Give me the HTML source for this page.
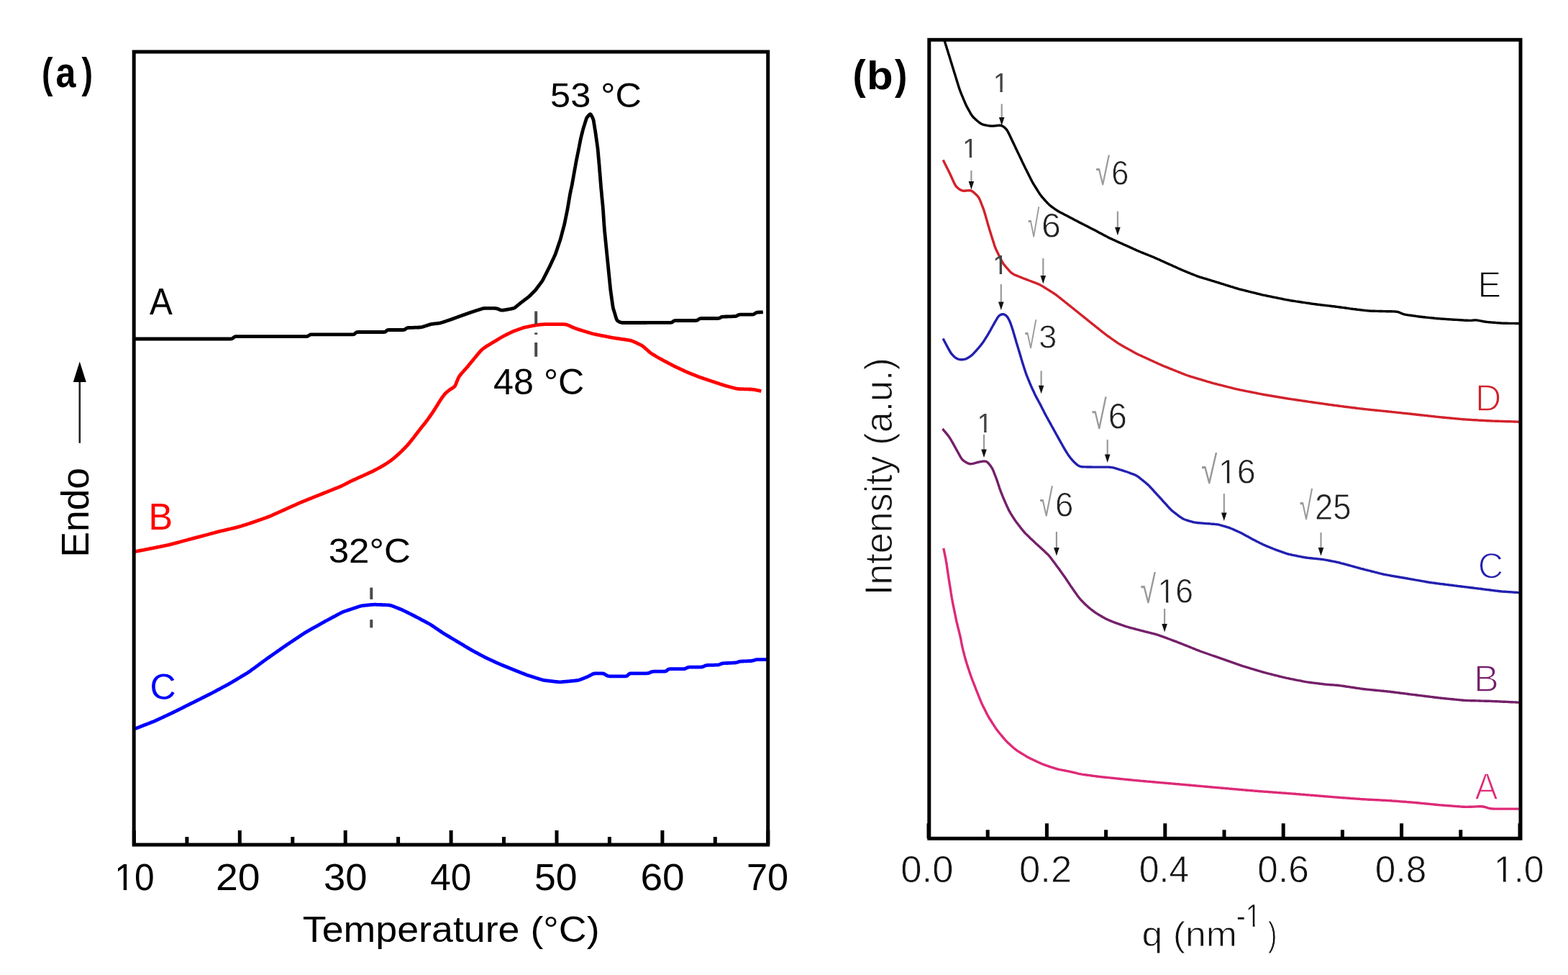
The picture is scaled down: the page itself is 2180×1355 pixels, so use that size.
<!DOCTYPE html><html><head><meta charset="utf-8"><style>html,body{margin:0;padding:0;background:#fff;width:2180px;height:1355px;overflow:hidden}svg{display:block}text{font-family:"Liberation Sans",Arial,sans-serif}</style></head><body>
<svg width="2180" height="1355" viewBox="0 0 2180 1355">
<rect width="2180" height="1355" fill="#fff"/>
<g fill="none" stroke-linejoin="round" stroke-linecap="butt">
<path d="M186.0,471.0 L187.0,471.0 L188.0,471.0 L189.0,471.0 L190.0,471.0 L191.0,471.0 L192.0,471.0 L193.0,471.0 L194.0,471.0 L195.0,471.0 L196.0,471.0 L197.0,471.0 L198.0,471.0 L199.0,471.0 L200.0,471.0 L201.0,471.0 L202.0,471.0 L203.0,471.0 L204.0,471.0 L205.0,471.0 L206.0,471.0 L207.0,471.0 L208.0,471.0 L209.0,471.0 L210.0,471.0 L211.0,471.0 L212.0,471.0 L213.0,471.0 L214.0,471.0 L215.0,471.0 L216.0,471.0 L217.0,471.0 L218.0,471.0 L219.0,471.0 L220.0,471.0 L221.0,471.0 L222.0,471.0 L223.0,471.0 L224.0,471.0 L225.0,471.0 L226.0,471.0 L227.0,471.0 L228.0,471.0 L229.0,471.0 L230.0,471.0 L231.0,471.0 L232.0,471.0 L233.1,471.0 L234.1,471.0 L235.1,471.0 L236.1,471.0 L237.1,471.0 L238.1,471.0 L239.1,471.0 L240.1,471.0 L241.1,471.0 L242.1,471.0 L243.1,471.0 L244.1,471.0 L245.1,471.0 L246.1,471.0 L247.1,471.0 L248.1,471.0 L249.1,471.0 L250.1,471.0 L251.1,471.0 L252.1,471.0 L253.1,471.0 L254.1,471.0 L255.1,471.0 L256.1,471.0 L257.1,471.0 L258.1,471.0 L259.1,471.0 L260.1,471.0 L261.1,471.0 L262.1,471.0 L263.1,471.0 L264.1,471.0 L265.1,471.0 L266.1,471.0 L267.1,471.0 L268.1,471.0 L269.1,471.0 L270.1,471.0 L271.1,471.0 L272.1,471.0 L273.1,471.0 L274.1,471.0 L275.1,471.0 L276.1,471.0 L277.1,471.0 L278.1,471.0 L279.1,471.0 L280.1,471.0 L281.1,471.0 L282.1,471.0 L283.1,471.0 L284.1,471.0 L285.1,471.0 L286.1,471.0 L287.1,471.0 L288.1,471.0 L289.1,471.0 L290.1,471.0 L291.1,471.0 L292.1,471.0 L293.1,471.0 L294.1,471.0 L295.1,471.0 L296.1,471.0 L297.1,471.0 L298.1,471.0 L299.1,471.0 L300.1,471.0 L301.1,471.0 L302.1,471.0 L303.1,471.0 L304.1,471.0 L305.1,471.0 L306.1,471.0 L307.1,471.0 L308.1,471.0 L309.1,471.0 L310.1,471.0 L311.1,471.0 L312.1,471.0 L313.1,471.0 L314.1,471.0 L315.1,471.0 L316.1,471.0 L317.1,471.0 L318.1,471.0 L319.1,471.0 L320.1,471.0 L321.1,470.9 L322.1,470.8 L322.9,470.5 L323.7,470.0 L324.4,469.4 L325.1,468.7 L325.9,468.2 L326.7,467.9 L327.7,467.7 L328.6,467.6 L329.6,467.6 L330.6,467.6 L331.6,467.6 L332.6,467.6 L333.6,467.6 L334.6,467.6 L335.6,467.6 L336.6,467.6 L337.6,467.6 L338.6,467.6 L339.6,467.6 L340.6,467.6 L341.6,467.6 L342.6,467.6 L343.6,467.6 L344.6,467.6 L345.6,467.6 L346.6,467.6 L347.6,467.6 L348.6,467.6 L349.6,467.6 L350.6,467.6 L351.6,467.6 L352.6,467.6 L353.6,467.6 L354.6,467.6 L355.6,467.6 L356.7,467.6 L357.7,467.6 L358.7,467.6 L359.7,467.6 L360.7,467.6 L361.7,467.6 L362.7,467.6 L363.7,467.6 L364.7,467.6 L365.7,467.6 L366.7,467.6 L367.7,467.6 L368.7,467.6 L369.7,467.6 L370.7,467.6 L371.7,467.6 L372.7,467.6 L373.7,467.6 L374.7,467.6 L375.7,467.6 L376.7,467.6 L377.7,467.6 L378.7,467.6 L379.7,467.6 L380.7,467.6 L381.7,467.6 L382.7,467.6 L383.7,467.6 L384.7,467.6 L385.7,467.6 L386.7,467.6 L387.7,467.6 L388.7,467.6 L389.7,467.6 L390.7,467.6 L391.7,467.6 L392.7,467.6 L393.7,467.6 L394.7,467.6 L395.7,467.6 L396.7,467.6 L397.7,467.6 L398.7,467.6 L399.7,467.6 L400.7,467.6 L401.7,467.6 L402.7,467.6 L403.7,467.6 L404.7,467.6 L405.7,467.6 L406.7,467.6 L407.7,467.6 L408.7,467.6 L409.7,467.6 L410.7,467.6 L411.7,467.6 L412.7,467.6 L413.7,467.6 L414.7,467.6 L415.7,467.6 L416.7,467.6 L417.7,467.6 L418.7,467.6 L419.7,467.6 L420.7,467.6 L421.7,467.6 L422.7,467.6 L423.7,467.6 L424.7,467.6 L425.7,467.6 L426.7,467.5 L427.6,467.3 L428.5,466.9 L429.2,466.4 L430.0,465.8 L430.8,465.4 L431.7,465.0 L432.7,464.9 L433.6,464.8 L434.6,464.8 L435.6,464.8 L436.6,464.8 L437.6,464.8 L438.6,464.8 L439.6,464.8 L440.6,464.8 L441.6,464.8 L442.6,464.8 L443.6,464.8 L444.6,464.8 L445.6,464.8 L446.6,464.8 L447.6,464.8 L448.6,464.8 L449.6,464.8 L450.6,464.8 L451.7,464.8 L452.7,464.8 L453.7,464.8 L454.7,464.8 L455.7,464.8 L456.7,464.8 L457.7,464.8 L458.7,464.8 L459.7,464.8 L460.7,464.8 L461.7,464.8 L462.7,464.8 L463.7,464.8 L464.7,464.8 L465.7,464.8 L466.7,464.8 L467.7,464.8 L468.7,464.8 L469.7,464.8 L470.7,464.8 L471.7,464.8 L472.7,464.8 L473.7,464.8 L474.7,464.8 L475.7,464.8 L476.7,464.8 L477.7,464.8 L478.7,464.8 L479.7,464.8 L480.7,464.8 L481.7,464.8 L482.7,464.8 L483.7,464.8 L484.7,464.8 L485.7,464.8 L486.7,464.8 L487.7,464.8 L488.7,464.8 L489.7,464.8 L490.7,464.8 L491.6,464.7 L492.5,464.4 L493.2,463.9 L493.9,463.3 L494.5,462.6 L495.2,462.1 L496.0,461.7 L496.9,461.6 L497.9,461.5 L498.8,461.5 L499.8,461.5 L500.8,461.5 L501.8,461.5 L502.8,461.5 L503.9,461.5 L504.9,461.5 L505.9,461.5 L506.9,461.5 L507.9,461.5 L508.9,461.5 L509.9,461.5 L510.9,461.5 L511.9,461.5 L512.9,461.5 L513.9,461.5 L514.9,461.5 L515.9,461.5 L516.9,461.5 L517.9,461.5 L518.9,461.5 L519.9,461.5 L520.9,461.5 L521.9,461.5 L522.9,461.5 L523.9,461.5 L524.9,461.5 L525.9,461.5 L526.9,461.5 L527.9,461.5 L528.9,461.5 L529.9,461.5 L530.9,461.5 L531.9,461.5 L532.9,461.5 L533.9,461.5 L534.8,461.3 L535.6,461.1 L536.4,460.6 L537.1,460.0 L537.7,459.3 L538.5,458.9 L539.4,458.6 L540.3,458.5 L541.3,458.5 L542.3,458.5 L543.3,458.5 L544.3,458.5 L545.3,458.5 L546.3,458.5 L547.3,458.5 L548.3,458.5 L549.3,458.5 L550.3,458.5 L551.3,458.5 L552.3,458.5 L553.3,458.5 L554.3,458.5 L555.3,458.5 L556.3,458.5 L557.3,458.5 L558.3,458.5 L559.3,458.5 L560.3,458.5 L561.3,458.4 L562.2,458.2 L563.0,457.9 L563.7,457.3 L564.4,456.7 L565.1,456.2 L565.9,455.8 L566.8,455.6 L567.8,455.5 L568.8,455.5 L569.8,455.4 L570.8,455.4 L571.8,455.4 L572.8,455.3 L573.8,455.3 L574.8,455.3 L575.8,455.2 L576.8,455.2 L577.8,455.2 L578.8,455.1 L579.8,455.1 L580.8,455.1 L581.8,455.0 L582.8,455.0 L583.8,454.9 L584.8,454.9 L585.8,454.7 L586.7,454.5 L587.7,454.2 L588.6,453.9 L589.6,453.6 L590.5,453.3 L591.5,453.0 L592.4,452.7 L593.4,452.4 L594.4,452.0 L595.3,451.7 L596.3,451.4 L597.2,451.1 L598.2,450.8 L599.1,450.6 L600.1,450.4 L601.1,450.3 L602.1,450.1 L603.1,450.0 L604.1,449.9 L605.1,449.8 L606.1,449.7 L607.1,449.6 L608.1,449.5 L609.1,449.3 L610.0,449.2 L611.0,449.1 L612.0,448.9 L613.0,448.6 L613.9,448.3 L614.9,448.0 L615.8,447.7 L616.8,447.4 L617.7,447.1 L618.7,446.8 L619.6,446.5 L620.6,446.2 L621.5,445.8 L622.5,445.5 L623.4,445.2 L624.4,444.9 L625.3,444.6 L626.3,444.2 L627.2,443.9 L628.2,443.6 L629.1,443.2 L630.0,442.9 L631.0,442.5 L631.9,442.2 L632.9,441.8 L633.8,441.5 L634.7,441.2 L635.7,440.8 L636.6,440.5 L637.6,440.1 L638.5,439.8 L639.4,439.4 L640.4,439.1 L641.3,438.8 L642.3,438.4 L643.2,438.1 L644.2,437.8 L645.1,437.4 L646.1,437.1 L647.0,436.8 L647.9,436.4 L648.9,436.1 L649.8,435.8 L650.8,435.4 L651.7,435.1 L652.7,434.8 L653.6,434.4 L654.6,434.1 L655.5,433.8 L656.4,433.5 L657.4,433.2 L658.4,432.9 L659.3,432.5 L660.3,432.2 L661.2,431.9 L662.2,431.6 L663.1,431.3 L664.1,431.0 L665.0,430.7 L666.0,430.4 L666.9,430.1 L667.9,429.8 L668.8,429.5 L669.8,429.2 L670.8,428.9 L671.7,428.7 L672.7,428.5 L673.7,428.4 L674.7,428.4 L675.7,428.4 L676.7,428.4 L677.7,428.4 L678.7,428.4 L679.7,428.4 L680.7,428.4 L681.7,428.4 L682.7,428.4 L683.7,428.4 L684.7,428.4 L685.7,428.4 L686.7,428.4 L687.7,428.4 L688.7,428.5 L689.7,428.6 L690.6,428.8 L691.6,429.1 L692.5,429.4 L693.4,429.8 L694.3,430.2 L695.3,430.6 L696.2,430.9 L697.1,431.1 L698.1,431.1 L699.1,431.1 L700.1,431.0 L701.1,430.9 L702.1,430.7 L703.0,430.6 L704.0,430.4 L705.0,430.2 L706.0,430.0 L707.0,429.9 L708.0,429.7 L709.0,429.5 L709.9,429.3 L710.9,429.1 L711.9,428.9 L712.9,428.7 L713.8,428.5 L714.7,428.1 L715.6,427.7 L716.4,427.1 L717.2,426.5 L718.0,425.9 L718.7,425.2 L719.5,424.6 L720.3,423.9 L721.0,423.3 L721.8,422.7 L722.6,422.0 L723.4,421.4 L724.1,420.8 L724.9,420.2 L725.7,419.6 L726.5,419.0 L727.3,418.4 L728.1,417.8 L728.9,417.2 L729.7,416.6 L730.5,416.0 L731.3,415.4 L732.1,414.8 L732.9,414.2 L733.7,413.5 L734.5,412.9 L735.3,412.3 L736.0,411.6 L736.8,410.9 L737.5,410.2 L738.2,409.5 L738.9,408.8 L739.6,408.1 L740.3,407.4 L741.0,406.7 L741.7,406.0 L742.4,405.3 L743.1,404.6 L743.8,403.8 L744.5,403.1 L745.1,402.3 L745.7,401.5 L746.3,400.7 L746.9,399.9 L747.5,399.1 L748.1,398.3 L748.7,397.5 L749.3,396.7 L749.9,395.9 L750.5,395.1 L751.1,394.3 L751.7,393.5 L752.3,392.7 L752.9,391.9 L753.5,391.1 L754.0,390.3 L754.5,389.4 L755.0,388.5 L755.5,387.6 L755.9,386.7 L756.4,385.8 L756.8,384.9 L757.3,384.1 L757.7,383.2 L758.2,382.3 L758.7,381.4 L759.1,380.5 L759.6,379.6 L760.0,378.7 L760.5,377.8 L760.9,376.9 L761.4,376.0 L761.8,375.1 L762.3,374.2 L762.7,373.4 L763.2,372.5 L763.6,371.6 L764.1,370.7 L764.5,369.8 L764.9,368.9 L765.4,367.9 L765.8,367.0 L766.2,366.1 L766.6,365.2 L767.0,364.3 L767.5,363.4 L767.9,362.5 L768.3,361.6 L768.7,360.7 L769.2,359.8 L769.6,358.9 L770.0,358.0 L770.4,357.1 L770.8,356.1 L771.3,355.2 L771.7,354.3 L772.1,353.4 L772.4,352.5 L772.8,351.5 L773.1,350.6 L773.4,349.6 L773.7,348.7 L774.1,347.7 L774.4,346.8 L774.7,345.8 L775.0,344.9 L775.3,343.9 L775.6,343.0 L776.0,342.0 L776.3,341.1 L776.6,340.1 L776.9,339.2 L777.2,338.2 L777.5,337.3 L777.9,336.3 L778.2,335.4 L778.5,334.4 L778.8,333.5 L779.1,332.5 L779.4,331.6 L779.7,330.6 L779.9,329.7 L780.2,328.7 L780.4,327.7 L780.7,326.8 L781.0,325.8 L781.2,324.8 L781.5,323.9 L781.7,322.9 L782.0,321.9 L782.2,321.0 L782.5,320.0 L782.8,319.0 L783.0,318.0 L783.3,317.1 L783.5,316.1 L783.8,315.1 L784.1,314.2 L784.3,313.2 L784.6,312.2 L784.8,311.3 L785.0,310.3 L785.2,309.3 L785.4,308.3 L785.6,307.4 L785.8,306.4 L786.0,305.4 L786.2,304.4 L786.4,303.4 L786.6,302.4 L786.8,301.5 L787.0,300.5 L787.2,299.5 L787.4,298.5 L787.6,297.5 L787.8,296.6 L788.0,295.6 L788.2,294.6 L788.4,293.6 L788.6,292.6 L788.8,291.6 L789.0,290.7 L789.1,289.7 L789.3,288.7 L789.5,287.7 L789.7,286.7 L789.8,285.7 L790.0,284.7 L790.2,283.8 L790.3,282.8 L790.5,281.8 L790.7,280.8 L790.8,279.8 L791.0,278.8 L791.2,277.8 L791.3,276.9 L791.5,275.9 L791.7,274.9 L791.8,273.9 L792.0,272.9 L792.2,271.9 L792.3,270.9 L792.5,269.9 L792.7,269.0 L792.9,268.0 L793.1,267.0 L793.3,266.0 L793.5,265.0 L793.7,264.1 L793.9,263.1 L794.1,262.1 L794.4,261.1 L794.6,260.1 L794.8,259.2 L795.0,258.2 L795.2,257.2 L795.4,256.2 L795.6,255.2 L795.7,254.3 L795.9,253.3 L796.1,252.3 L796.3,251.3 L796.4,250.3 L796.6,249.3 L796.8,248.3 L797.0,247.4 L797.1,246.4 L797.3,245.4 L797.5,244.4 L797.7,243.4 L797.8,242.4 L798.0,241.4 L798.2,240.5 L798.4,239.5 L798.5,238.5 L798.7,237.5 L798.9,236.5 L799.1,235.5 L799.2,234.5 L799.4,233.6 L799.6,232.6 L799.8,231.6 L800.0,230.6 L800.1,229.6 L800.3,228.6 L800.5,227.7 L800.7,226.7 L800.8,225.7 L801.0,224.7 L801.2,223.7 L801.4,222.7 L801.6,221.7 L801.8,220.8 L802.0,219.8 L802.2,218.8 L802.4,217.8 L802.6,216.8 L802.8,215.9 L803.0,214.9 L803.2,213.9 L803.4,212.9 L803.6,211.9 L803.8,211.0 L804.0,210.0 L804.2,209.0 L804.4,208.0 L804.6,207.0 L804.8,206.0 L805.0,205.1 L805.2,204.1 L805.3,203.1 L805.5,202.1 L805.7,201.1 L805.9,200.2 L806.1,199.2 L806.3,198.2 L806.5,197.2 L806.7,196.2 L806.9,195.2 L807.1,194.3 L807.3,193.3 L807.5,192.3 L807.7,191.3 L808.0,190.4 L808.2,189.4 L808.4,188.4 L808.7,187.4 L808.9,186.5 L809.2,185.5 L809.4,184.5 L809.7,183.6 L809.9,182.6 L810.1,181.6 L810.4,180.6 L810.6,179.7 L810.9,178.7 L811.2,177.8 L811.5,176.8 L811.8,175.8 L812.1,174.9 L812.4,173.9 L812.7,173.0 L813.0,172.0 L813.3,171.1 L813.6,170.1 L813.9,169.1 L814.2,168.2 L814.5,167.2 L814.8,166.3 L815.1,165.3 L815.5,164.4 L815.9,163.6 L816.5,162.7 L817.1,162.0 L817.7,161.2 L818.4,160.5 L819.1,159.8 L819.7,159.1 L820.3,158.7 L820.9,158.7 L821.4,159.1 L821.9,159.8 L822.3,160.6 L822.8,161.5 L823.2,162.4 L823.7,163.3 L824.1,164.2 L824.5,165.1 L824.8,166.1 L825.1,167.0 L825.3,168.0 L825.5,169.0 L825.6,170.0 L825.8,171.0 L825.9,172.0 L826.1,172.9 L826.3,173.9 L826.4,174.9 L826.6,175.9 L826.7,176.9 L826.9,177.9 L827.0,178.9 L827.2,179.9 L827.4,180.9 L827.5,181.8 L827.7,182.8 L827.8,183.8 L828.0,184.8 L828.1,185.8 L828.3,186.8 L828.4,187.8 L828.6,188.8 L828.7,189.8 L828.8,190.8 L829.0,191.7 L829.1,192.7 L829.3,193.7 L829.4,194.7 L829.5,195.7 L829.7,196.7 L829.8,197.7 L830.0,198.7 L830.1,199.7 L830.2,200.7 L830.4,201.7 L830.5,202.6 L830.7,203.6 L830.8,204.6 L830.9,205.6 L831.0,206.6 L831.1,207.6 L831.2,208.6 L831.3,209.6 L831.4,210.6 L831.5,211.6 L831.6,212.6 L831.7,213.6 L831.8,214.6 L831.8,215.6 L831.9,216.6 L832.0,217.6 L832.1,218.6 L832.2,219.6 L832.3,220.6 L832.4,221.6 L832.5,222.6 L832.6,223.6 L832.6,224.6 L832.7,225.6 L832.8,226.6 L832.9,227.6 L833.0,228.6 L833.1,229.6 L833.2,230.5 L833.3,231.5 L833.3,232.5 L833.4,233.5 L833.5,234.5 L833.6,235.5 L833.7,236.5 L833.7,237.5 L833.8,238.5 L833.9,239.5 L834.0,240.5 L834.1,241.5 L834.2,242.5 L834.2,243.5 L834.3,244.5 L834.4,245.5 L834.5,246.5 L834.6,247.5 L834.6,248.5 L834.7,249.5 L834.8,250.5 L834.9,251.5 L835.0,252.5 L835.0,253.5 L835.1,254.5 L835.2,255.5 L835.3,256.5 L835.4,257.5 L835.4,258.5 L835.5,259.5 L835.6,260.5 L835.7,261.5 L835.8,262.5 L835.9,263.5 L836.0,264.5 L836.1,265.5 L836.2,266.5 L836.3,267.5 L836.4,268.5 L836.5,269.5 L836.6,270.4 L836.6,271.4 L836.7,272.4 L836.8,273.4 L836.9,274.4 L837.0,275.4 L837.1,276.4 L837.2,277.4 L837.3,278.4 L837.4,279.4 L837.5,280.4 L837.6,281.4 L837.7,282.4 L837.8,283.4 L837.9,284.4 L838.0,285.4 L838.1,286.4 L838.2,287.4 L838.2,288.4 L838.3,289.4 L838.4,290.4 L838.5,291.4 L838.6,292.4 L838.6,293.4 L838.7,294.4 L838.8,295.4 L838.8,296.4 L838.9,297.4 L839.0,298.4 L839.0,299.4 L839.1,300.4 L839.2,301.4 L839.2,302.4 L839.3,303.4 L839.4,304.4 L839.4,305.4 L839.5,306.4 L839.6,307.4 L839.6,308.4 L839.7,309.4 L839.8,310.4 L839.8,311.4 L839.9,312.4 L840.0,313.4 L840.1,314.4 L840.1,315.4 L840.2,316.4 L840.3,317.3 L840.3,318.3 L840.4,319.3 L840.5,320.3 L840.6,321.3 L840.7,322.3 L840.8,323.3 L840.9,324.3 L841.0,325.3 L841.1,326.3 L841.2,327.3 L841.3,328.3 L841.4,329.3 L841.5,330.3 L841.6,331.3 L841.7,332.3 L841.8,333.3 L841.9,334.3 L842.0,335.3 L842.1,336.3 L842.2,337.3 L842.3,338.3 L842.4,339.3 L842.5,340.3 L842.6,341.3 L842.7,342.3 L842.8,343.3 L842.9,344.2 L843.0,345.2 L843.1,346.2 L843.2,347.2 L843.3,348.2 L843.4,349.2 L843.5,350.2 L843.6,351.2 L843.7,352.2 L843.8,353.2 L843.9,354.2 L844.0,355.2 L844.1,356.2 L844.2,357.2 L844.3,358.2 L844.4,359.2 L844.5,360.2 L844.6,361.2 L844.7,362.2 L844.8,363.2 L844.9,364.2 L845.0,365.2 L845.1,366.2 L845.2,367.2 L845.3,368.2 L845.4,369.1 L845.5,370.1 L845.6,371.1 L845.7,372.1 L845.8,373.1 L845.9,374.1 L846.0,375.1 L846.1,376.1 L846.2,377.1 L846.3,378.1 L846.4,379.1 L846.5,380.1 L846.6,381.1 L846.7,382.1 L846.8,383.1 L846.9,384.1 L847.0,385.1 L847.1,386.1 L847.2,387.1 L847.3,388.1 L847.4,389.1 L847.5,390.1 L847.6,391.1 L847.7,392.1 L847.8,393.1 L847.9,394.1 L848.0,395.0 L848.1,396.0 L848.2,397.0 L848.3,398.0 L848.4,399.0 L848.5,400.0 L848.6,401.0 L848.7,402.0 L848.8,403.0 L849.0,404.0 L849.1,405.0 L849.2,406.0 L849.4,407.0 L849.5,408.0 L849.7,409.0 L849.8,410.0 L849.9,410.9 L850.1,411.9 L850.2,412.9 L850.3,413.9 L850.5,414.9 L850.6,415.9 L850.8,416.9 L850.9,417.9 L851.0,418.9 L851.2,419.9 L851.3,420.9 L851.4,421.9 L851.6,422.8 L851.7,423.8 L851.9,424.8 L852.0,425.8 L852.2,426.8 L852.4,427.8 L852.6,428.7 L852.9,429.7 L853.2,430.7 L853.5,431.6 L853.8,432.6 L854.1,433.5 L854.4,434.5 L854.7,435.4 L855.0,436.4 L855.2,437.4 L855.5,438.3 L855.8,439.3 L856.1,440.2 L856.4,441.2 L856.7,442.1 L857.0,443.1 L857.4,444.0 L857.8,444.9 L858.3,445.6 L859.1,446.2 L859.9,446.7 L860.8,447.2 L861.6,447.6 L862.6,448.0 L863.5,448.2 L864.5,448.4 L865.4,448.5 L866.4,448.5 L867.4,448.5 L868.4,448.5 L869.4,448.5 L870.4,448.5 L871.4,448.5 L872.4,448.5 L873.4,448.5 L874.4,448.5 L875.5,448.5 L876.5,448.5 L877.5,448.5 L878.5,448.5 L879.5,448.5 L880.5,448.5 L881.5,448.5 L882.5,448.5 L883.5,448.5 L884.5,448.5 L885.5,448.5 L886.5,448.5 L887.5,448.5 L888.5,448.5 L889.5,448.5 L890.5,448.5 L891.5,448.5 L892.5,448.5 L893.5,448.5 L894.5,448.5 L895.5,448.5 L896.5,448.5 L897.5,448.5 L898.5,448.5 L899.5,448.4 L900.5,448.4 L901.5,448.4 L902.5,448.4 L903.5,448.4 L904.5,448.4 L905.5,448.4 L906.5,448.4 L907.5,448.4 L908.5,448.4 L909.5,448.4 L910.5,448.4 L911.5,448.4 L912.5,448.4 L913.5,448.4 L914.5,448.4 L915.5,448.4 L916.5,448.4 L917.5,448.4 L918.5,448.4 L919.5,448.4 L920.5,448.4 L921.5,448.4 L922.5,448.4 L923.5,448.4 L924.5,448.4 L925.5,448.4 L926.5,448.4 L927.5,448.4 L928.5,448.4 L929.5,448.4 L930.5,448.4 L931.5,448.4 L932.5,448.3 L933.4,448.2 L934.3,447.9 L935.1,447.4 L935.8,446.8 L936.5,446.3 L937.3,445.8 L938.2,445.6 L939.2,445.5 L940.2,445.5 L941.2,445.5 L942.2,445.5 L943.2,445.5 L944.2,445.5 L945.2,445.5 L946.2,445.5 L947.2,445.5 L948.2,445.5 L949.2,445.5 L950.2,445.5 L951.2,445.5 L952.2,445.5 L953.2,445.5 L954.2,445.5 L955.2,445.5 L956.2,445.5 L957.2,445.5 L958.2,445.5 L959.2,445.5 L960.2,445.5 L961.2,445.5 L962.2,445.5 L963.2,445.5 L964.2,445.5 L965.2,445.5 L966.2,445.5 L967.2,445.5 L968.1,445.4 L969.1,445.2 L969.9,444.9 L970.6,444.3 L971.3,443.7 L972.1,443.2 L972.9,442.8 L973.8,442.6 L974.8,442.5 L975.8,442.5 L976.8,442.5 L977.8,442.5 L978.8,442.5 L979.8,442.5 L980.8,442.5 L981.8,442.5 L982.8,442.5 L983.8,442.5 L984.8,442.5 L985.8,442.5 L986.8,442.5 L987.8,442.5 L988.8,442.5 L989.8,442.5 L990.8,442.5 L991.8,442.5 L992.8,442.5 L993.8,442.5 L994.8,442.5 L995.8,442.5 L996.8,442.5 L997.8,442.5 L998.8,442.4 L999.7,442.3 L1000.6,442.0 L1001.4,441.5 L1002.2,441.0 L1003.0,440.6 L1003.9,440.3 L1004.9,440.2 L1005.9,440.1 L1006.9,440.1 L1007.9,440.1 L1008.9,440.0 L1009.9,440.0 L1010.9,440.0 L1011.9,439.9 L1012.9,439.9 L1013.9,439.9 L1014.9,439.9 L1015.9,439.8 L1016.9,439.8 L1017.9,439.8 L1018.9,439.7 L1019.9,439.7 L1020.9,439.7 L1021.9,439.6 L1022.8,439.5 L1023.7,439.3 L1024.6,438.9 L1025.4,438.4 L1026.2,437.9 L1027.0,437.5 L1027.9,437.3 L1028.9,437.2 L1029.9,437.2 L1030.9,437.2 L1031.9,437.2 L1032.9,437.2 L1033.9,437.2 L1034.9,437.2 L1035.9,437.2 L1036.9,437.2 L1037.9,437.2 L1038.9,437.2 L1039.9,437.2 L1040.9,437.2 L1041.9,437.2 L1042.9,437.2 L1043.9,437.2 L1044.9,437.2 L1045.9,437.2 L1046.8,437.0 L1047.8,436.8 L1048.6,436.4 L1049.4,435.8 L1050.2,435.2 L1051.0,434.8 L1051.9,434.4 L1052.8,434.2 L1053.8,434.1 L1054.8,434.0 L1055.8,434.0 L1056.8,433.9 L1057.8,433.9 L1058.8,433.8 L1059.8,433.8 L1060.8,433.7" stroke="#000" stroke-width="4.80"/>
<path d="M187.8,766.6 L188.8,766.4 L189.8,766.2 L190.7,766.0 L191.7,765.8 L192.7,765.6 L193.7,765.4 L194.7,765.2 L195.7,765.1 L196.6,764.9 L197.6,764.7 L198.6,764.5 L199.6,764.3 L200.6,764.1 L201.6,763.9 L202.5,763.7 L203.5,763.5 L204.5,763.3 L205.5,763.1 L206.5,762.9 L207.4,762.7 L208.4,762.5 L209.4,762.4 L210.4,762.2 L211.4,762.0 L212.4,761.8 L213.3,761.6 L214.3,761.4 L215.3,761.2 L216.3,761.0 L217.3,760.8 L218.2,760.6 L219.2,760.4 L220.2,760.2 L221.2,760.0 L222.2,759.8 L223.2,759.6 L224.1,759.4 L225.1,759.2 L226.1,759.0 L227.1,758.8 L228.1,758.6 L229.0,758.4 L230.0,758.2 L231.0,758.0 L232.0,757.8 L233.0,757.6 L233.9,757.4 L234.9,757.2 L235.9,756.9 L236.9,756.7 L237.8,756.4 L238.8,756.2 L239.8,755.9 L240.7,755.6 L241.7,755.4 L242.7,755.1 L243.6,754.9 L244.6,754.6 L245.6,754.3 L246.5,754.1 L247.5,753.8 L248.5,753.6 L249.4,753.3 L250.4,753.0 L251.4,752.8 L252.3,752.5 L253.3,752.3 L254.3,752.0 L255.2,751.7 L256.2,751.5 L257.2,751.2 L258.1,751.0 L259.1,750.7 L260.1,750.5 L261.0,750.2 L262.0,749.9 L263.0,749.7 L263.9,749.4 L264.9,749.2 L265.9,748.9 L266.8,748.7 L267.8,748.4 L268.8,748.1 L269.7,747.9 L270.7,747.6 L271.7,747.4 L272.6,747.1 L273.6,746.9 L274.6,746.6 L275.6,746.3 L276.5,746.1 L277.5,745.8 L278.5,745.6 L279.4,745.3 L280.4,745.1 L281.4,744.8 L282.3,744.6 L283.3,744.3 L284.3,744.0 L285.2,743.8 L286.2,743.5 L287.2,743.3 L288.1,743.0 L289.1,742.8 L290.1,742.5 L291.0,742.2 L292.0,742.0 L293.0,741.7 L293.9,741.5 L294.9,741.2 L295.9,741.0 L296.8,740.7 L297.8,740.5 L298.8,740.2 L299.7,739.9 L300.7,739.7 L301.7,739.4 L302.7,739.2 L303.6,738.9 L304.6,738.7 L305.6,738.4 L306.5,738.2 L307.5,738.0 L308.5,737.7 L309.5,737.5 L310.4,737.3 L311.4,737.1 L312.4,736.8 L313.4,736.6 L314.3,736.4 L315.3,736.1 L316.3,735.9 L317.3,735.7 L318.2,735.5 L319.2,735.2 L320.2,735.0 L321.2,734.8 L322.1,734.5 L323.1,734.3 L324.1,734.1 L325.1,733.9 L326.0,733.6 L327.0,733.4 L328.0,733.2 L328.9,732.9 L329.9,732.7 L330.9,732.4 L331.8,732.1 L332.8,731.8 L333.8,731.6 L334.7,731.3 L335.7,731.0 L336.6,730.7 L337.6,730.4 L338.5,730.1 L339.5,729.8 L340.5,729.5 L341.4,729.2 L342.4,728.9 L343.3,728.6 L344.3,728.3 L345.2,728.0 L346.2,727.7 L347.1,727.4 L348.1,727.1 L349.0,726.7 L350.0,726.4 L350.9,726.1 L351.9,725.7 L352.8,725.4 L353.8,725.1 L354.7,724.8 L355.7,724.4 L356.6,724.1 L357.5,723.8 L358.5,723.4 L359.4,723.1 L360.4,722.8 L361.3,722.5 L362.3,722.1 L363.2,721.8 L364.2,721.5 L365.1,721.1 L366.0,720.8 L367.0,720.5 L367.9,720.1 L368.9,719.8 L369.8,719.5 L370.8,719.1 L371.7,718.8 L372.6,718.4 L373.6,718.1 L374.5,717.7 L375.4,717.3 L376.4,717.0 L377.3,716.6 L378.2,716.1 L379.1,715.7 L380.0,715.3 L380.9,714.9 L381.8,714.5 L382.8,714.1 L383.7,713.7 L384.6,713.3 L385.5,712.9 L386.4,712.5 L387.3,712.0 L388.2,711.6 L389.2,711.2 L390.1,710.8 L391.0,710.4 L391.9,710.0 L392.8,709.6 L393.7,709.2 L394.6,708.8 L395.5,708.3 L396.5,707.9 L397.4,707.5 L398.3,707.1 L399.2,706.7 L400.1,706.3 L401.0,705.9 L401.9,705.5 L402.8,705.0 L403.7,704.6 L404.7,704.2 L405.6,703.8 L406.5,703.4 L407.4,703.0 L408.3,702.6 L409.2,702.2 L410.1,701.8 L411.1,701.4 L412.0,701.0 L412.9,700.5 L413.8,700.1 L414.7,699.7 L415.6,699.3 L416.6,698.9 L417.5,698.5 L418.4,698.1 L419.3,697.7 L420.2,697.4 L421.2,697.0 L422.1,696.6 L423.0,696.2 L423.9,695.9 L424.9,695.5 L425.8,695.1 L426.7,694.7 L427.7,694.4 L428.6,694.0 L429.5,693.6 L430.5,693.2 L431.4,692.9 L432.3,692.5 L433.2,692.1 L434.2,691.8 L435.1,691.4 L436.0,691.0 L437.0,690.6 L437.9,690.3 L438.8,689.9 L439.7,689.5 L440.7,689.2 L441.6,688.8 L442.5,688.4 L443.5,688.0 L444.4,687.7 L445.3,687.3 L446.3,686.9 L447.2,686.6 L448.1,686.2 L449.0,685.8 L450.0,685.4 L450.9,685.1 L451.8,684.7 L452.8,684.3 L453.7,684.0 L454.6,683.6 L455.6,683.2 L456.5,682.8 L457.4,682.5 L458.3,682.1 L459.3,681.7 L460.2,681.3 L461.1,681.0 L462.1,680.6 L463.0,680.2 L463.9,679.9 L464.8,679.5 L465.8,679.1 L466.7,678.7 L467.6,678.4 L468.6,678.0 L469.5,677.6 L470.4,677.2 L471.3,676.9 L472.3,676.5 L473.2,676.1 L474.1,675.7 L475.0,675.3 L475.9,674.9 L476.8,674.4 L477.7,674.0 L478.6,673.5 L479.5,673.1 L480.4,672.6 L481.3,672.1 L482.2,671.7 L483.1,671.2 L484.0,670.8 L484.8,670.3 L485.7,669.9 L486.6,669.4 L487.5,668.9 L488.4,668.5 L489.3,668.1 L490.2,667.6 L491.1,667.2 L492.0,666.8 L492.9,666.4 L493.9,666.0 L494.8,665.6 L495.7,665.1 L496.6,664.7 L497.5,664.3 L498.4,663.9 L499.3,663.5 L500.3,663.1 L501.2,662.7 L502.1,662.3 L503.0,661.9 L503.9,661.5 L504.8,661.1 L505.7,660.6 L506.6,660.2 L507.6,659.8 L508.5,659.4 L509.4,659.0 L510.3,658.6 L511.2,658.2 L512.1,657.7 L513.0,657.3 L513.9,656.9 L514.8,656.5 L515.8,656.1 L516.7,655.7 L517.6,655.2 L518.5,654.8 L519.4,654.3 L520.2,653.9 L521.1,653.4 L522.0,652.9 L522.9,652.5 L523.8,652.0 L524.7,651.5 L525.5,651.0 L526.4,650.5 L527.3,650.1 L528.2,649.6 L529.0,649.1 L529.9,648.6 L530.8,648.1 L531.7,647.6 L532.5,647.1 L533.4,646.6 L534.3,646.1 L535.1,645.6 L535.9,645.0 L536.8,644.5 L537.6,644.0 L538.5,643.4 L539.3,642.8 L540.1,642.3 L541.0,641.7 L541.8,641.2 L542.6,640.6 L543.4,640.0 L544.2,639.4 L545.0,638.8 L545.8,638.2 L546.6,637.6 L547.4,636.9 L548.1,636.3 L548.9,635.6 L549.6,635.0 L550.4,634.3 L551.1,633.7 L551.9,633.0 L552.6,632.3 L553.4,631.7 L554.1,631.0 L554.9,630.3 L555.6,629.7 L556.3,629.0 L557.1,628.3 L557.8,627.6 L558.5,626.9 L559.2,626.2 L559.9,625.5 L560.6,624.8 L561.3,624.1 L562.0,623.4 L562.7,622.6 L563.5,621.9 L564.2,621.2 L564.8,620.5 L565.5,619.8 L566.2,619.0 L566.9,618.3 L567.5,617.5 L568.1,616.7 L568.8,616.0 L569.4,615.2 L570.1,614.4 L570.7,613.6 L571.3,612.9 L572.0,612.1 L572.6,611.3 L573.2,610.5 L573.8,609.8 L574.5,609.0 L575.1,608.2 L575.7,607.4 L576.3,606.6 L576.9,605.8 L577.5,605.0 L578.1,604.2 L578.7,603.4 L579.3,602.6 L580.0,601.8 L580.6,601.0 L581.2,600.2 L581.8,599.4 L582.4,598.7 L583.0,597.9 L583.6,597.1 L584.2,596.3 L584.8,595.5 L585.5,594.7 L586.1,593.9 L586.7,593.1 L587.3,592.3 L587.9,591.6 L588.6,590.8 L589.2,590.0 L589.8,589.2 L590.4,588.4 L591.1,587.7 L591.7,586.9 L592.3,586.1 L592.9,585.3 L593.5,584.5 L594.1,583.7 L594.7,582.9 L595.3,582.1 L595.9,581.2 L596.5,580.4 L597.0,579.6 L597.6,578.8 L598.2,578.0 L598.8,577.2 L599.3,576.3 L599.9,575.5 L600.5,574.7 L601.0,573.9 L601.6,573.0 L602.1,572.2 L602.7,571.3 L603.2,570.5 L603.8,569.7 L604.3,568.8 L604.8,568.0 L605.4,567.1 L605.9,566.3 L606.5,565.4 L607.0,564.6 L607.5,563.8 L608.1,562.9 L608.6,562.1 L609.1,561.2 L609.6,560.3 L610.2,559.5 L610.7,558.6 L611.2,557.8 L611.7,556.9 L612.3,556.1 L612.8,555.3 L613.4,554.4 L613.9,553.6 L614.5,552.8 L615.1,552.0 L615.7,551.2 L616.3,550.4 L616.9,549.6 L617.5,548.8 L618.1,548.0 L618.8,547.2 L619.5,546.5 L620.2,545.8 L620.9,545.2 L621.7,544.5 L622.4,543.9 L623.2,543.3 L624.0,542.6 L624.8,542.0 L625.6,541.5 L626.4,540.9 L627.3,540.4 L628.1,539.9 L629.0,539.4 L629.8,538.8 L630.6,538.3 L631.3,537.7 L632.0,537.0 L632.5,536.3 L633.0,535.4 L633.4,534.6 L633.8,533.7 L634.2,532.7 L634.6,531.8 L634.9,530.9 L635.3,529.9 L635.7,529.0 L636.1,528.1 L636.4,527.2 L636.8,526.3 L637.3,525.4 L637.7,524.5 L638.2,523.6 L638.7,522.8 L639.3,522.0 L639.9,521.2 L640.5,520.4 L641.2,519.6 L641.8,518.8 L642.5,518.1 L643.2,517.4 L643.8,516.6 L644.5,515.9 L645.2,515.1 L645.8,514.4 L646.5,513.6 L647.2,512.9 L647.8,512.1 L648.5,511.4 L649.1,510.6 L649.8,509.8 L650.4,509.1 L651.1,508.3 L651.7,507.5 L652.3,506.8 L653.0,506.0 L653.6,505.2 L654.2,504.5 L654.9,503.7 L655.5,502.9 L656.2,502.1 L656.8,501.4 L657.4,500.6 L658.1,499.8 L658.7,499.0 L659.3,498.3 L660.0,497.5 L660.6,496.7 L661.2,496.0 L661.9,495.2 L662.5,494.4 L663.2,493.6 L663.8,492.9 L664.5,492.1 L665.1,491.3 L665.7,490.6 L666.4,489.8 L667.0,489.1 L667.7,488.3 L668.4,487.6 L669.1,486.9 L669.8,486.2 L670.5,485.5 L671.3,484.9 L672.1,484.3 L672.9,483.7 L673.7,483.1 L674.6,482.6 L675.4,482.0 L676.2,481.4 L677.0,480.9 L677.9,480.4 L678.7,479.8 L679.6,479.3 L680.5,478.8 L681.3,478.3 L682.2,477.8 L683.0,477.3 L683.9,476.7 L684.8,476.2 L685.6,475.7 L686.5,475.2 L687.3,474.7 L688.2,474.2 L689.0,473.7 L689.9,473.1 L690.8,472.6 L691.6,472.1 L692.5,471.6 L693.3,471.1 L694.2,470.5 L695.0,470.0 L695.9,469.5 L696.8,469.0 L697.6,468.5 L698.5,468.0 L699.4,467.5 L700.2,467.0 L701.1,466.6 L702.0,466.1 L702.9,465.7 L703.8,465.2 L704.7,464.8 L705.6,464.3 L706.5,463.9 L707.4,463.5 L708.3,463.0 L709.2,462.6 L710.1,462.1 L711.0,461.7 L711.9,461.3 L712.8,460.9 L713.7,460.5 L714.7,460.1 L715.6,459.7 L716.5,459.4 L717.5,459.0 L718.4,458.7 L719.4,458.3 L720.3,458.0 L721.2,457.7 L722.2,457.4 L723.1,457.0 L724.1,456.7 L725.0,456.4 L726.0,456.0 L726.9,455.7 L727.9,455.4 L728.8,455.2 L729.8,454.9 L730.8,454.7 L731.8,454.5 L732.7,454.3 L733.7,454.1 L734.7,453.9 L735.7,453.7 L736.7,453.5 L737.6,453.3 L738.6,453.1 L739.6,452.9 L740.6,452.7 L741.6,452.5 L742.6,452.3 L743.5,452.1 L744.5,452.0 L745.5,451.8 L746.5,451.7 L747.5,451.6 L748.5,451.4 L749.5,451.3 L750.5,451.2 L751.5,451.1 L752.5,451.0 L753.5,450.9 L754.5,450.8 L755.5,450.8 L756.5,450.7 L757.5,450.7 L758.5,450.7 L759.5,450.7 L760.5,450.7 L761.5,450.7 L762.5,450.7 L763.5,450.7 L764.5,450.7 L765.5,450.7 L766.5,450.7 L767.5,450.7 L768.5,450.7 L769.5,450.7 L770.5,450.7 L771.5,450.7 L772.5,450.7 L773.5,450.7 L774.5,450.7 L775.5,450.7 L776.5,450.7 L777.5,450.7 L778.5,450.7 L779.5,450.7 L780.5,450.7 L781.5,450.7 L782.5,450.7 L783.5,450.7 L784.5,450.8 L785.5,450.8 L786.4,450.9 L787.4,451.1 L788.3,451.4 L789.3,451.7 L790.2,452.1 L791.1,452.5 L792.0,452.9 L792.9,453.3 L793.8,453.7 L794.7,454.2 L795.6,454.6 L796.5,454.9 L797.5,455.3 L798.4,455.7 L799.3,456.0 L800.3,456.4 L801.2,456.8 L802.1,457.1 L803.1,457.4 L804.0,457.7 L805.0,458.1 L805.9,458.4 L806.9,458.7 L807.9,458.9 L808.8,459.2 L809.8,459.5 L810.7,459.8 L811.7,460.1 L812.6,460.4 L813.6,460.7 L814.6,461.0 L815.5,461.3 L816.5,461.6 L817.4,461.9 L818.4,462.2 L819.3,462.4 L820.3,462.7 L821.3,463.0 L822.2,463.3 L823.2,463.6 L824.2,463.8 L825.1,464.0 L826.1,464.3 L827.1,464.5 L828.1,464.7 L829.0,464.9 L830.0,465.1 L831.0,465.3 L832.0,465.5 L833.0,465.7 L834.0,465.9 L834.9,466.1 L835.9,466.3 L836.9,466.5 L837.9,466.6 L838.9,466.8 L839.8,467.0 L840.8,467.2 L841.8,467.4 L842.8,467.6 L843.8,467.8 L844.8,468.0 L845.7,468.2 L846.7,468.4 L847.7,468.6 L848.7,468.8 L849.7,469.0 L850.7,469.2 L851.6,469.3 L852.6,469.5 L853.6,469.7 L854.6,469.8 L855.6,470.0 L856.6,470.1 L857.6,470.3 L858.6,470.4 L859.5,470.6 L860.5,470.7 L861.5,470.9 L862.5,471.0 L863.5,471.1 L864.5,471.3 L865.5,471.4 L866.5,471.6 L867.5,471.7 L868.5,471.9 L869.5,472.0 L870.4,472.1 L871.4,472.3 L872.4,472.4 L873.4,472.6 L874.4,472.8 L875.4,472.9 L876.4,473.1 L877.3,473.4 L878.3,473.7 L879.2,474.0 L880.1,474.4 L881.0,474.8 L881.9,475.2 L882.9,475.6 L883.8,476.0 L884.7,476.4 L885.6,476.9 L886.5,477.3 L887.4,477.7 L888.3,478.1 L889.2,478.6 L890.1,479.0 L891.0,479.5 L891.9,479.9 L892.7,480.5 L893.5,481.0 L894.3,481.6 L895.1,482.2 L895.8,482.9 L896.6,483.5 L897.3,484.2 L898.1,484.9 L898.8,485.5 L899.6,486.2 L900.3,486.9 L901.1,487.5 L901.8,488.2 L902.6,488.9 L903.3,489.5 L904.1,490.1 L904.9,490.7 L905.7,491.3 L906.5,491.9 L907.4,492.4 L908.2,492.9 L909.1,493.4 L910.0,493.9 L910.8,494.4 L911.7,495.0 L912.6,495.5 L913.4,496.0 L914.3,496.5 L915.2,497.0 L916.0,497.5 L916.9,498.0 L917.8,498.5 L918.6,498.9 L919.5,499.4 L920.4,499.9 L921.3,500.4 L922.2,500.9 L923.0,501.3 L923.9,501.8 L924.8,502.3 L925.7,502.7 L926.6,503.2 L927.5,503.7 L928.3,504.1 L929.2,504.6 L930.1,505.1 L931.0,505.5 L931.9,506.0 L932.8,506.5 L933.7,506.9 L934.5,507.4 L935.4,507.9 L936.3,508.3 L937.2,508.8 L938.1,509.2 L939.0,509.6 L939.9,510.1 L940.8,510.5 L941.7,510.9 L942.6,511.3 L943.6,511.8 L944.5,512.2 L945.4,512.6 L946.3,513.0 L947.2,513.5 L948.1,513.9 L949.0,514.3 L949.9,514.7 L950.8,515.2 L951.7,515.6 L952.6,516.0 L953.5,516.4 L954.5,516.8 L955.4,517.2 L956.3,517.6 L957.2,518.0 L958.1,518.4 L959.1,518.7 L960.0,519.1 L960.9,519.5 L961.9,519.9 L962.8,520.2 L963.7,520.6 L964.7,521.0 L965.6,521.3 L966.5,521.7 L967.4,522.1 L968.4,522.5 L969.3,522.8 L970.2,523.2 L971.2,523.6 L972.1,523.9 L973.0,524.2 L974.0,524.6 L974.9,524.9 L975.9,525.2 L976.8,525.5 L977.8,525.9 L978.7,526.2 L979.7,526.5 L980.6,526.8 L981.6,527.1 L982.5,527.4 L983.5,527.8 L984.4,528.1 L985.4,528.4 L986.3,528.7 L987.3,529.0 L988.2,529.3 L989.2,529.7 L990.1,530.0 L991.1,530.3 L992.0,530.6 L993.0,530.9 L993.9,531.2 L994.9,531.6 L995.8,531.9 L996.8,532.2 L997.7,532.5 L998.7,532.8 L999.6,533.1 L1000.6,533.5 L1001.5,533.8 L1002.5,534.1 L1003.4,534.4 L1004.4,534.7 L1005.3,535.0 L1006.3,535.3 L1007.2,535.6 L1008.2,535.9 L1009.2,536.2 L1010.1,536.5 L1011.1,536.7 L1012.1,537.0 L1013.0,537.2 L1014.0,537.5 L1015.0,537.8 L1015.9,538.0 L1016.9,538.3 L1017.9,538.5 L1018.8,538.8 L1019.8,539.0 L1020.8,539.3 L1021.7,539.5 L1022.7,539.8 L1023.7,540.0 L1024.7,540.2 L1025.6,540.3 L1026.6,540.4 L1027.6,540.5 L1028.6,540.6 L1029.6,540.6 L1030.6,540.6 L1031.6,540.7 L1032.6,540.7 L1033.6,540.7 L1034.6,540.8 L1035.6,540.8 L1036.6,540.8 L1037.6,540.8 L1038.6,540.9 L1039.6,540.9 L1040.6,540.9 L1041.6,541.0 L1042.6,541.0 L1043.6,541.0 L1044.6,541.1 L1045.6,541.2 L1046.6,541.3 L1047.6,541.4 L1048.6,541.6 L1049.6,541.7 L1050.6,541.9 L1051.5,542.1 L1052.5,542.3 L1053.5,542.5 L1054.5,542.7 L1055.5,542.9 L1056.4,543.1 L1057.4,543.3 L1058.4,543.5" stroke="#ff0000" stroke-width="4.80"/>
<path d="M187.8,1012.7 L188.7,1012.3 L189.7,1012.0 L190.6,1011.6 L191.5,1011.3 L192.5,1010.9 L193.4,1010.5 L194.3,1010.2 L195.3,1009.8 L196.2,1009.4 L197.1,1009.1 L198.1,1008.7 L199.0,1008.4 L199.9,1008.0 L200.9,1007.6 L201.8,1007.3 L202.7,1006.9 L203.7,1006.5 L204.6,1006.2 L205.6,1005.8 L206.5,1005.5 L207.4,1005.1 L208.4,1004.7 L209.3,1004.4 L210.2,1004.0 L211.2,1003.6 L212.1,1003.3 L213.0,1002.9 L214.0,1002.5 L214.9,1002.2 L215.8,1001.8 L216.7,1001.3 L217.6,1000.9 L218.5,1000.5 L219.4,1000.1 L220.3,999.7 L221.2,999.2 L222.2,998.8 L223.1,998.4 L224.0,998.0 L224.9,997.5 L225.8,997.1 L226.7,996.7 L227.6,996.3 L228.5,995.8 L229.4,995.4 L230.3,995.0 L231.2,994.6 L232.1,994.1 L233.0,993.7 L234.0,993.3 L234.9,992.9 L235.8,992.4 L236.7,992.0 L237.6,991.6 L238.5,991.2 L239.4,990.7 L240.3,990.3 L241.2,989.9 L242.1,989.4 L243.0,989.0 L243.9,988.5 L244.8,988.1 L245.7,987.7 L246.6,987.2 L247.5,986.8 L248.4,986.3 L249.3,985.9 L250.2,985.4 L251.1,985.0 L252.0,984.5 L252.9,984.1 L253.8,983.6 L254.7,983.2 L255.6,982.7 L256.5,982.3 L257.3,981.8 L258.2,981.4 L259.1,980.9 L260.0,980.5 L260.9,980.0 L261.8,979.6 L262.7,979.1 L263.6,978.7 L264.5,978.2 L265.4,977.8 L266.3,977.3 L267.2,976.9 L268.1,976.5 L269.0,976.0 L269.9,975.6 L270.8,975.1 L271.7,974.7 L272.6,974.2 L273.5,973.8 L274.4,973.3 L275.3,972.9 L276.2,972.4 L277.1,972.0 L278.0,971.5 L278.9,971.1 L279.8,970.6 L280.7,970.2 L281.6,969.7 L282.5,969.3 L283.4,968.9 L284.2,968.4 L285.1,968.0 L286.0,967.5 L286.9,967.1 L287.8,966.6 L288.7,966.2 L289.6,965.7 L290.5,965.3 L291.4,964.8 L292.3,964.4 L293.2,963.9 L294.1,963.5 L295.0,963.0 L295.9,962.5 L296.7,962.0 L297.6,961.6 L298.5,961.1 L299.4,960.6 L300.3,960.2 L301.2,959.7 L302.0,959.2 L302.9,958.7 L303.8,958.3 L304.7,957.8 L305.6,957.3 L306.5,956.8 L307.3,956.4 L308.2,955.9 L309.1,955.4 L310.0,954.9 L310.9,954.5 L311.8,954.0 L312.6,953.5 L313.5,953.1 L314.4,952.6 L315.3,952.1 L316.2,951.6 L317.1,951.2 L317.9,950.7 L318.8,950.2 L319.7,949.7 L320.6,949.2 L321.4,948.7 L322.3,948.2 L323.1,947.7 L324.0,947.1 L324.9,946.6 L325.7,946.1 L326.6,945.6 L327.4,945.1 L328.3,944.6 L329.2,944.1 L330.0,943.5 L330.9,943.0 L331.7,942.5 L332.6,942.0 L333.5,941.5 L334.3,941.0 L335.2,940.4 L336.0,939.9 L336.9,939.4 L337.7,938.9 L338.6,938.4 L339.5,937.9 L340.3,937.4 L341.2,936.8 L342.0,936.3 L342.9,935.8 L343.8,935.3 L344.6,934.8 L345.4,934.2 L346.3,933.7 L347.1,933.1 L347.9,932.5 L348.7,931.9 L349.5,931.3 L350.3,930.7 L351.1,930.1 L351.9,929.5 L352.8,928.9 L353.6,928.3 L354.4,927.7 L355.2,927.2 L356.0,926.6 L356.8,926.0 L357.6,925.4 L358.4,924.8 L359.2,924.2 L360.0,923.6 L360.8,923.0 L361.6,922.4 L362.4,921.8 L363.2,921.2 L364.1,920.6 L364.9,920.0 L365.7,919.4 L366.5,918.8 L367.3,918.2 L368.1,917.7 L368.9,917.1 L369.7,916.5 L370.5,915.9 L371.3,915.3 L372.1,914.7 L373.0,914.1 L373.8,913.6 L374.6,913.0 L375.4,912.4 L376.2,911.8 L377.1,911.3 L377.9,910.7 L378.7,910.1 L379.5,909.5 L380.3,909.0 L381.2,908.4 L382.0,907.8 L382.8,907.2 L383.6,906.7 L384.5,906.1 L385.3,905.5 L386.1,904.9 L386.9,904.4 L387.7,903.8 L388.6,903.2 L389.4,902.6 L390.2,902.1 L391.0,901.5 L391.8,900.9 L392.7,900.4 L393.5,899.8 L394.3,899.2 L395.1,898.6 L396.0,898.1 L396.8,897.5 L397.6,896.9 L398.4,896.4 L399.3,895.8 L400.1,895.2 L400.9,894.7 L401.8,894.1 L402.6,893.6 L403.4,893.0 L404.3,892.5 L405.1,891.9 L405.9,891.3 L406.8,890.8 L407.6,890.2 L408.4,889.7 L409.3,889.1 L410.1,888.6 L410.9,888.0 L411.8,887.5 L412.6,886.9 L413.4,886.3 L414.3,885.8 L415.1,885.2 L415.9,884.7 L416.8,884.1 L417.6,883.6 L418.4,883.0 L419.3,882.5 L420.1,881.9 L420.9,881.3 L421.8,880.8 L422.6,880.2 L423.5,879.7 L424.3,879.2 L425.2,878.7 L426.0,878.2 L426.9,877.7 L427.8,877.2 L428.6,876.7 L429.5,876.2 L430.4,875.7 L431.3,875.2 L432.1,874.7 L433.0,874.2 L433.9,873.7 L434.8,873.2 L435.6,872.7 L436.5,872.2 L437.4,871.7 L438.2,871.3 L439.1,870.8 L440.0,870.3 L440.9,869.8 L441.7,869.3 L442.6,868.8 L443.5,868.3 L444.4,867.8 L445.2,867.3 L446.1,866.8 L447.0,866.3 L447.8,865.8 L448.7,865.3 L449.6,864.9 L450.5,864.4 L451.3,863.9 L452.2,863.4 L453.1,862.9 L454.0,862.5 L454.9,862.0 L455.8,861.5 L456.6,861.0 L457.5,860.6 L458.4,860.1 L459.3,859.6 L460.2,859.1 L461.1,858.7 L461.9,858.2 L462.8,857.7 L463.7,857.3 L464.6,856.8 L465.5,856.3 L466.4,855.8 L467.2,855.4 L468.1,854.9 L469.0,854.4 L469.9,853.9 L470.8,853.5 L471.7,853.0 L472.5,852.5 L473.4,852.1 L474.3,851.6 L475.2,851.1 L476.1,850.7 L477.0,850.3 L478.0,850.0 L478.9,849.6 L479.9,849.3 L480.8,849.0 L481.8,848.7 L482.7,848.4 L483.7,848.1 L484.6,847.7 L485.6,847.4 L486.5,847.1 L487.5,846.8 L488.4,846.5 L489.4,846.2 L490.3,845.8 L491.3,845.5 L492.2,845.2 L493.2,844.9 L494.1,844.6 L495.1,844.3 L496.0,844.0 L497.0,843.6 L497.9,843.3 L498.9,843.0 L499.8,842.7 L500.8,842.4 L501.7,842.2 L502.7,841.9 L503.7,841.8 L504.7,841.6 L505.7,841.5 L506.7,841.4 L507.7,841.3 L508.7,841.2 L509.7,841.1 L510.7,841.0 L511.7,840.9 L512.7,840.8 L513.7,840.7 L514.7,840.6 L515.7,840.5 L516.6,840.4 L517.6,840.3 L518.6,840.3 L519.6,840.2 L520.6,840.2 L521.6,840.2 L522.6,840.2 L523.6,840.3 L524.6,840.3 L525.6,840.3 L526.6,840.4 L527.6,840.4 L528.6,840.4 L529.7,840.5 L530.7,840.5 L531.7,840.6 L532.7,840.6 L533.7,840.6 L534.7,840.7 L535.7,840.7 L536.7,840.8 L537.7,840.8 L538.7,840.8 L539.7,840.9 L540.7,841.0 L541.6,841.1 L542.6,841.3 L543.6,841.5 L544.5,841.8 L545.5,842.1 L546.4,842.5 L547.3,842.9 L548.3,843.2 L549.2,843.6 L550.1,844.0 L551.0,844.3 L552.0,844.7 L552.9,845.1 L553.8,845.4 L554.8,845.8 L555.7,846.2 L556.6,846.6 L557.6,846.9 L558.5,847.3 L559.4,847.7 L560.3,848.1 L561.2,848.6 L562.1,849.0 L563.0,849.5 L563.9,849.9 L564.8,850.4 L565.7,850.8 L566.6,851.2 L567.5,851.7 L568.4,852.1 L569.3,852.6 L570.2,853.0 L571.1,853.5 L572.0,853.9 L572.9,854.4 L573.8,854.8 L574.7,855.3 L575.6,855.7 L576.5,856.2 L577.4,856.6 L578.2,857.1 L579.1,857.6 L580.0,858.0 L580.9,858.5 L581.8,859.0 L582.7,859.4 L583.6,859.9 L584.4,860.4 L585.3,860.8 L586.2,861.3 L587.1,861.8 L588.0,862.3 L588.9,862.7 L589.7,863.2 L590.6,863.7 L591.5,864.1 L592.4,864.6 L593.3,865.1 L594.2,865.6 L595.0,866.0 L595.9,866.5 L596.8,867.0 L597.7,867.5 L598.5,868.0 L599.4,868.6 L600.2,869.1 L601.0,869.7 L601.9,870.2 L602.7,870.8 L603.5,871.3 L604.4,871.9 L605.2,872.5 L606.0,873.0 L606.9,873.6 L607.7,874.1 L608.5,874.7 L609.4,875.3 L610.2,875.8 L611.0,876.4 L611.8,876.9 L612.7,877.5 L613.5,878.1 L614.3,878.6 L615.2,879.2 L616.0,879.7 L616.9,880.3 L617.7,880.8 L618.6,881.3 L619.4,881.8 L620.3,882.3 L621.1,882.9 L622.0,883.4 L622.9,883.9 L623.7,884.4 L624.6,884.9 L625.4,885.4 L626.3,885.9 L627.2,886.5 L628.0,887.0 L628.9,887.5 L629.7,888.0 L630.6,888.5 L631.5,889.0 L632.3,889.5 L633.2,890.0 L634.0,890.6 L634.9,891.1 L635.8,891.6 L636.6,892.1 L637.5,892.6 L638.3,893.1 L639.2,893.6 L640.1,894.2 L640.9,894.7 L641.8,895.2 L642.6,895.7 L643.5,896.2 L644.4,896.7 L645.2,897.3 L646.1,897.8 L646.9,898.3 L647.8,898.8 L648.7,899.3 L649.5,899.8 L650.4,900.4 L651.2,900.9 L652.1,901.4 L652.9,901.9 L653.8,902.4 L654.7,902.9 L655.5,903.4 L656.4,903.9 L657.3,904.4 L658.2,904.9 L659.1,905.3 L659.9,905.8 L660.8,906.3 L661.7,906.8 L662.6,907.2 L663.5,907.7 L664.4,908.2 L665.2,908.6 L666.1,909.1 L667.0,909.6 L667.9,910.1 L668.8,910.5 L669.7,911.0 L670.5,911.5 L671.4,911.9 L672.3,912.4 L673.2,912.9 L674.1,913.3 L675.0,913.8 L675.9,914.2 L676.8,914.7 L677.7,915.1 L678.6,915.5 L679.5,915.9 L680.4,916.4 L681.3,916.8 L682.2,917.2 L683.2,917.6 L684.1,918.0 L685.0,918.5 L685.9,918.9 L686.8,919.3 L687.7,919.7 L688.6,920.2 L689.5,920.6 L690.4,921.0 L691.3,921.4 L692.2,921.8 L693.2,922.2 L694.1,922.6 L695.0,923.0 L695.9,923.4 L696.8,923.8 L697.8,924.2 L698.7,924.6 L699.6,924.9 L700.6,925.3 L701.5,925.7 L702.4,926.1 L703.3,926.4 L704.3,926.8 L705.2,927.2 L706.1,927.6 L707.1,927.9 L708.0,928.3 L708.9,928.7 L709.9,929.1 L710.8,929.4 L711.7,929.8 L712.6,930.2 L713.6,930.6 L714.5,930.9 L715.4,931.3 L716.4,931.7 L717.3,932.1 L718.2,932.4 L719.2,932.8 L720.1,933.2 L721.0,933.5 L721.9,933.9 L722.9,934.3 L723.8,934.7 L724.7,935.0 L725.7,935.4 L726.6,935.8 L727.5,936.1 L728.5,936.5 L729.4,936.9 L730.3,937.2 L731.3,937.6 L732.2,938.0 L733.1,938.3 L734.1,938.6 L735.0,938.9 L736.0,939.2 L737.0,939.5 L737.9,939.8 L738.9,940.1 L739.8,940.4 L740.8,940.7 L741.7,941.0 L742.7,941.3 L743.6,941.6 L744.6,941.9 L745.6,942.2 L746.5,942.5 L747.5,942.8 L748.4,943.1 L749.4,943.4 L750.3,943.7 L751.3,944.0 L752.3,944.3 L753.2,944.6 L754.2,944.9 L755.1,945.1 L756.1,945.3 L757.1,945.5 L758.1,945.6 L759.1,945.8 L760.1,945.9 L761.1,946.0 L762.1,946.1 L763.1,946.2 L764.1,946.3 L765.1,946.5 L766.0,946.6 L767.0,946.7 L768.0,946.8 L769.0,946.9 L770.0,947.0 L771.0,947.2 L772.0,947.3 L773.0,947.4 L774.0,947.5 L775.0,947.6 L776.0,947.7 L777.0,947.8 L778.0,947.8 L779.0,947.8 L780.0,947.8 L781.0,947.7 L782.0,947.6 L783.0,947.5 L784.0,947.4 L785.0,947.3 L786.0,947.2 L787.0,947.1 L788.0,947.1 L789.0,947.0 L790.0,946.9 L791.0,946.8 L792.0,946.7 L792.9,946.6 L793.9,946.5 L794.9,946.4 L795.9,946.3 L796.9,946.2 L797.9,946.1 L798.9,946.0 L799.9,945.9 L800.9,945.8 L801.9,945.6 L802.9,945.5 L803.9,945.3 L804.8,945.1 L805.8,944.8 L806.7,944.5 L807.7,944.1 L808.6,943.8 L809.5,943.4 L810.5,943.0 L811.4,942.7 L812.3,942.3 L813.3,941.9 L814.2,941.5 L815.1,941.2 L816.0,940.8 L817.0,940.4 L817.9,940.0 L818.8,939.5 L819.6,939.1 L820.5,938.6 L821.4,938.1 L822.3,937.6 L823.2,937.2 L824.1,936.7 L825.0,936.4 L825.9,936.1 L826.9,936.0 L827.8,935.9 L828.8,935.8 L829.8,935.8 L830.8,935.8 L831.8,935.8 L832.8,935.8 L833.8,935.8 L834.8,935.8 L835.8,935.8 L836.8,935.9 L837.8,936.0 L838.7,936.1 L839.6,936.4 L840.5,936.8 L841.3,937.3 L842.2,937.9 L843.0,938.4 L843.8,938.9 L844.7,939.3 L845.6,939.5 L846.6,939.7 L847.5,939.8 L848.5,939.8 L849.5,939.8 L850.5,939.8 L851.5,939.8 L852.5,939.8 L853.5,939.8 L854.5,939.8 L855.5,939.8 L856.5,939.8 L857.5,939.8 L858.5,939.8 L859.5,939.8 L860.6,939.8 L861.6,939.8 L862.6,939.8 L863.6,939.8 L864.6,939.8 L865.6,939.8 L866.6,939.8 L867.6,939.8 L868.6,939.8 L869.5,939.8 L870.5,939.7 L871.3,939.5 L872.1,939.1 L872.8,938.6 L873.3,937.9 L873.9,937.3 L874.5,936.7 L875.3,936.3 L876.1,936.0 L877.0,935.9 L878.0,935.8 L879.0,935.8 L879.9,935.8 L881.0,935.8 L882.0,935.8 L883.0,935.8 L884.0,935.8 L885.0,935.8 L886.0,935.8 L887.0,935.8 L888.0,935.8 L889.0,935.8 L890.0,935.8 L891.0,935.8 L892.0,935.8 L893.0,935.8 L894.0,935.8 L895.0,935.8 L896.0,935.8 L897.0,935.8 L898.0,935.8 L899.0,935.8 L900.0,935.7 L900.9,935.6 L901.9,935.4 L902.8,935.1 L903.6,934.7 L904.5,934.2 L905.4,933.9 L906.3,933.6 L907.2,933.4 L908.2,933.3 L909.2,933.2 L910.2,933.2 L911.2,933.2 L912.2,933.2 L913.2,933.2 L914.2,933.2 L915.2,933.2 L916.2,933.2 L917.2,933.2 L918.2,933.2 L919.2,933.2 L920.2,933.2 L921.2,933.2 L922.2,933.2 L923.2,933.2 L924.1,933.1 L925.0,932.9 L925.9,932.7 L926.6,932.2 L927.3,931.7 L927.9,931.1 L928.6,930.6 L929.3,930.2 L930.2,929.9 L931.1,929.8 L932.1,929.7 L933.1,929.7 L934.1,929.7 L935.1,929.7 L936.1,929.7 L937.1,929.7 L938.1,929.7 L939.1,929.7 L940.1,929.7 L941.1,929.7 L942.1,929.7 L943.1,929.7 L944.1,929.7 L945.1,929.7 L946.1,929.7 L947.1,929.7 L948.1,929.7 L949.1,929.7 L950.1,929.6 L951.1,929.6 L952.0,929.4 L952.9,929.1 L953.8,928.8 L954.6,928.3 L955.5,927.9 L956.4,927.6 L957.3,927.3 L958.3,927.2 L959.2,927.1 L960.2,927.1 L961.2,927.1 L962.2,927.1 L963.2,927.1 L964.2,927.1 L965.3,927.1 L966.3,927.1 L967.3,927.1 L968.3,927.1 L969.3,927.1 L970.3,927.1 L971.3,927.1 L972.3,927.1 L973.3,927.1 L974.3,927.1 L975.2,927.0 L976.2,926.9 L977.1,926.6 L978.0,926.3 L978.9,925.8 L979.7,925.4 L980.6,925.0 L981.5,924.8 L982.5,924.6 L983.4,924.5 L984.4,924.4 L985.4,924.4 L986.4,924.4 L987.4,924.4 L988.4,924.3 L989.4,924.3 L990.4,924.3 L991.4,924.3 L992.4,924.3 L993.4,924.2 L994.4,924.2 L995.4,924.2 L996.4,924.1 L997.4,924.1 L998.4,924.0 L999.4,923.8 L1000.3,923.5 L1001.2,923.1 L1002.1,922.7 L1003.0,922.4 L1003.9,922.1 L1004.8,921.9 L1005.8,921.8 L1006.8,921.7 L1007.8,921.6 L1008.8,921.6 L1009.8,921.6 L1010.8,921.5 L1011.8,921.5 L1012.8,921.4 L1013.8,921.4 L1014.8,921.4 L1015.8,921.3 L1016.8,921.3 L1017.8,921.2 L1018.8,921.2 L1019.8,921.2 L1020.8,921.1 L1021.8,921.0 L1022.8,920.9 L1023.7,920.8 L1024.7,920.5 L1025.6,920.2 L1026.5,919.9 L1027.5,919.6 L1028.4,919.4 L1029.4,919.2 L1030.4,919.1 L1031.4,919.1 L1032.4,919.0 L1033.4,919.0 L1034.4,918.9 L1035.4,918.9 L1036.4,918.8 L1037.4,918.8 L1038.4,918.8 L1039.4,918.7 L1040.4,918.7 L1041.4,918.6 L1042.4,918.6 L1043.4,918.5 L1044.4,918.5 L1045.4,918.4 L1046.3,918.2 L1047.3,917.9 L1048.2,917.7 L1049.1,917.3 L1050.1,917.1 L1051.0,916.8 L1052.0,916.7 L1053.0,916.6 L1054.0,916.6 L1055.0,916.6 L1056.0,916.6 L1057.0,916.6 L1058.0,916.6 L1059.0,916.6 L1060.0,916.6 L1061.0,916.6 L1062.0,916.6 L1063.0,916.6 L1064.0,916.6 L1065.0,916.6 L1066.0,916.6" stroke="#0000ff" stroke-width="4.80"/>
</g>
<g stroke="#4a4a4a" stroke-width="4">
<line x1="745.2" y1="432.5" x2="745.2" y2="450.5"/><line x1="745.2" y1="462.3" x2="745.2" y2="465"/><line x1="745.2" y1="476" x2="745.2" y2="495.7"/>
<line x1="516.3" y1="816.6" x2="516.3" y2="832.9"/><line x1="516.3" y1="861.1" x2="516.3" y2="872.4"/>
</g>
<rect x="186.2" y="72" width="881.5" height="1102" fill="none" stroke="#000" stroke-width="5"/>
<g stroke="#000" stroke-width="5"><line x1="186.4" y1="1174" x2="186.4" y2="1154.0"/><line x1="259.9" y1="1174" x2="259.9" y2="1163.0"/><line x1="333.3" y1="1174" x2="333.3" y2="1154.0"/><line x1="406.8" y1="1174" x2="406.8" y2="1163.0"/><line x1="480.2" y1="1174" x2="480.2" y2="1154.0"/><line x1="553.6" y1="1174" x2="553.6" y2="1163.0"/><line x1="627.1" y1="1174" x2="627.1" y2="1154.0"/><line x1="700.5" y1="1174" x2="700.5" y2="1163.0"/><line x1="774.0" y1="1174" x2="774.0" y2="1154.0"/><line x1="847.4" y1="1174" x2="847.4" y2="1163.0"/><line x1="920.9" y1="1174" x2="920.9" y2="1154.0"/><line x1="994.3" y1="1174" x2="994.3" y2="1163.0"/><line x1="1067.8" y1="1174" x2="1067.8" y2="1154.0"/></g>
<line x1="110.8" y1="615.8" x2="110.8" y2="525" stroke="#222" stroke-width="2.6"/>
<polygon points="101.8,531 119.8,531 110.8,502.4" fill="#000"/>
<g fill="none" stroke-linejoin="round" stroke-width="3.40">
<path d="M1313.0,56.0 L1313.4,57.4 L1313.9,58.9 L1314.3,60.3 L1314.8,61.7 L1315.2,63.2 L1315.7,64.6 L1316.1,66.1 L1316.5,67.5 L1317.0,68.9 L1317.4,70.4 L1317.9,71.8 L1318.3,73.2 L1318.8,74.7 L1319.2,76.1 L1319.7,77.5 L1320.1,79.0 L1320.5,80.4 L1321.0,81.9 L1321.4,83.3 L1321.9,84.7 L1322.3,86.2 L1322.8,87.6 L1323.2,89.0 L1323.6,90.5 L1324.1,91.9 L1324.5,93.3 L1325.0,94.8 L1325.4,96.2 L1325.9,97.7 L1326.3,99.1 L1326.7,100.5 L1327.2,102.0 L1327.6,103.4 L1328.1,104.8 L1328.5,106.3 L1329.0,107.7 L1329.4,109.1 L1329.8,110.6 L1330.3,112.0 L1330.7,113.5 L1331.2,114.9 L1331.6,116.3 L1332.1,117.8 L1332.5,119.2 L1333.0,120.6 L1333.4,122.1 L1333.9,123.5 L1334.4,124.9 L1334.9,126.3 L1335.4,127.7 L1336.0,129.1 L1336.6,130.5 L1337.1,131.9 L1337.7,133.3 L1338.3,134.7 L1338.9,136.1 L1339.4,137.4 L1340.0,138.8 L1340.6,140.2 L1341.2,141.6 L1341.8,143.0 L1342.4,144.4 L1343.0,145.7 L1343.6,147.1 L1344.3,148.4 L1345.0,149.7 L1345.8,151.1 L1346.5,152.4 L1347.2,153.7 L1348.0,155.0 L1348.7,156.3 L1349.4,157.6 L1350.2,158.9 L1351.0,160.1 L1351.9,161.4 L1352.8,162.5 L1353.8,163.6 L1354.9,164.6 L1356.0,165.6 L1357.2,166.6 L1358.3,167.6 L1359.4,168.5 L1360.6,169.5 L1361.8,170.4 L1363.0,171.3 L1364.2,172.0 L1365.5,172.6 L1366.9,173.1 L1368.3,173.5 L1369.8,173.8 L1371.3,174.1 L1372.7,174.4 L1374.2,174.7 L1375.7,174.9 L1377.2,175.0 L1378.7,175.1 L1380.1,175.1 L1381.6,175.0 L1383.1,174.9 L1384.6,174.7 L1386.1,174.5 L1387.6,174.4 L1389.1,174.3 L1390.5,174.3 L1391.9,174.5 L1393.2,174.9 L1394.4,175.6 L1395.6,176.4 L1396.7,177.3 L1397.8,178.3 L1398.8,179.4 L1399.7,180.5 L1400.6,181.8 L1401.3,183.0 L1402.0,184.4 L1402.7,185.7 L1403.3,187.1 L1404.0,188.4 L1404.6,189.8 L1405.2,191.1 L1405.9,192.5 L1406.5,193.8 L1407.2,195.2 L1407.8,196.6 L1408.5,197.9 L1409.1,199.3 L1409.8,200.6 L1410.4,202.0 L1411.1,203.3 L1411.7,204.7 L1412.3,206.1 L1413.0,207.4 L1413.6,208.8 L1414.3,210.1 L1414.9,211.5 L1415.6,212.8 L1416.2,214.2 L1416.9,215.6 L1417.5,216.9 L1418.2,218.3 L1418.8,219.6 L1419.5,221.0 L1420.1,222.3 L1420.7,223.7 L1421.4,225.1 L1422.0,226.4 L1422.7,227.8 L1423.3,229.1 L1424.0,230.5 L1424.7,231.8 L1425.3,233.2 L1426.0,234.5 L1426.7,235.9 L1427.4,237.2 L1428.0,238.5 L1428.7,239.9 L1429.4,241.2 L1430.0,242.6 L1430.7,243.9 L1431.4,245.3 L1432.1,246.6 L1432.7,248.0 L1433.4,249.3 L1434.1,250.6 L1434.8,252.0 L1435.5,253.3 L1436.3,254.6 L1437.0,255.9 L1437.8,257.2 L1438.6,258.4 L1439.4,259.7 L1440.2,261.0 L1441.0,262.3 L1441.8,263.5 L1442.6,264.8 L1443.4,266.1 L1444.2,267.4 L1445.0,268.6 L1445.8,269.9 L1446.7,271.1 L1447.6,272.3 L1448.5,273.5 L1449.5,274.6 L1450.5,275.7 L1451.5,276.9 L1452.5,278.0 L1453.5,279.1 L1454.5,280.2 L1455.5,281.3 L1456.6,282.4 L1457.6,283.4 L1458.7,284.5 L1459.8,285.5 L1461.0,286.4 L1462.2,287.3 L1463.4,288.2 L1464.6,289.1 L1465.8,289.9 L1467.1,290.8 L1468.3,291.6 L1469.6,292.5 L1470.8,293.3 L1472.1,294.0 L1473.4,294.7 L1474.8,295.5 L1476.1,296.1 L1477.4,296.8 L1478.8,297.5 L1480.1,298.2 L1481.5,298.9 L1482.8,299.6 L1484.1,300.3 L1485.5,301.0 L1486.8,301.7 L1488.1,302.4 L1489.4,303.1 L1490.8,303.8 L1492.1,304.5 L1493.4,305.2 L1494.8,305.9 L1496.1,306.6 L1497.4,307.3 L1498.8,308.0 L1500.1,308.7 L1501.4,309.4 L1502.8,310.0 L1504.1,310.7 L1505.4,311.4 L1506.8,312.1 L1508.1,312.8 L1509.5,313.5 L1510.8,314.1 L1512.1,314.8 L1513.5,315.5 L1514.8,316.2 L1516.1,316.9 L1517.5,317.6 L1518.8,318.2 L1520.2,318.9 L1521.5,319.6 L1522.8,320.3 L1524.2,321.0 L1525.5,321.7 L1526.8,322.5 L1528.1,323.2 L1529.5,323.9 L1530.8,324.6 L1532.1,325.3 L1533.4,326.0 L1534.8,326.7 L1536.1,327.4 L1537.4,328.1 L1538.7,328.8 L1540.1,329.5 L1541.4,330.2 L1542.7,330.9 L1544.1,331.5 L1545.5,332.1 L1546.8,332.8 L1548.2,333.4 L1549.6,334.0 L1551.0,334.6 L1552.3,335.2 L1553.7,335.9 L1555.1,336.5 L1556.4,337.1 L1557.8,337.7 L1559.2,338.3 L1560.5,338.9 L1561.9,339.6 L1563.3,340.2 L1564.7,340.8 L1566.0,341.4 L1567.4,342.0 L1568.8,342.6 L1570.1,343.3 L1571.5,343.9 L1572.9,344.5 L1574.3,345.1 L1575.6,345.7 L1577.0,346.4 L1578.4,347.0 L1579.7,347.6 L1581.1,348.2 L1582.5,348.8 L1583.9,349.4 L1585.3,350.0 L1586.6,350.5 L1588.0,351.1 L1589.4,351.7 L1590.8,352.2 L1592.2,352.8 L1593.6,353.3 L1595.0,353.9 L1596.4,354.5 L1597.8,355.0 L1599.2,355.6 L1600.6,356.1 L1602.0,356.7 L1603.4,357.3 L1604.8,357.9 L1606.1,358.5 L1607.5,359.1 L1608.9,359.7 L1610.2,360.3 L1611.6,360.9 L1613.0,361.5 L1614.4,362.2 L1615.7,362.8 L1617.1,363.4 L1618.5,364.0 L1619.8,364.6 L1621.2,365.2 L1622.6,365.9 L1624.0,366.5 L1625.3,367.1 L1626.7,367.7 L1628.1,368.3 L1629.4,368.9 L1630.8,369.6 L1632.2,370.2 L1633.6,370.8 L1634.9,371.4 L1636.3,372.0 L1637.7,372.7 L1639.0,373.3 L1640.4,373.9 L1641.8,374.5 L1643.1,375.1 L1644.5,375.7 L1645.9,376.3 L1647.3,376.9 L1648.7,377.4 L1650.1,378.0 L1651.5,378.6 L1652.9,379.1 L1654.3,379.7 L1655.7,380.3 L1657.1,380.8 L1658.4,381.4 L1659.8,381.9 L1661.2,382.5 L1662.6,383.0 L1664.0,383.6 L1665.5,384.1 L1666.9,384.6 L1668.3,385.1 L1669.7,385.5 L1671.2,385.9 L1672.6,386.4 L1674.0,386.8 L1675.5,387.2 L1676.9,387.7 L1678.4,388.1 L1679.8,388.5 L1681.2,389.0 L1682.7,389.4 L1684.1,389.8 L1685.6,390.3 L1687.0,390.7 L1688.4,391.1 L1689.9,391.6 L1691.3,392.0 L1692.7,392.5 L1694.2,392.9 L1695.6,393.4 L1697.1,393.8 L1698.5,394.3 L1699.9,394.7 L1701.4,395.2 L1702.8,395.6 L1704.2,396.1 L1705.7,396.5 L1707.1,397.0 L1708.5,397.4 L1710.0,397.8 L1711.4,398.3 L1712.8,398.7 L1714.3,399.2 L1715.7,399.6 L1717.1,400.1 L1718.6,400.5 L1720.0,400.9 L1721.5,401.4 L1722.9,401.8 L1724.4,402.1 L1725.8,402.5 L1727.3,402.9 L1728.7,403.2 L1730.2,403.6 L1731.7,404.0 L1733.1,404.3 L1734.6,404.7 L1736.0,405.1 L1737.5,405.4 L1739.0,405.8 L1740.4,406.2 L1741.9,406.5 L1743.3,406.9 L1744.8,407.2 L1746.2,407.6 L1747.7,408.0 L1749.2,408.3 L1750.6,408.7 L1752.1,409.0 L1753.5,409.4 L1755.0,409.8 L1756.5,410.1 L1757.9,410.4 L1759.4,410.7 L1760.9,411.0 L1762.3,411.3 L1763.8,411.6 L1765.3,411.9 L1766.8,412.2 L1768.2,412.5 L1769.7,412.8 L1771.2,413.1 L1772.7,413.4 L1774.1,413.7 L1775.6,414.0 L1777.1,414.3 L1778.6,414.6 L1780.0,414.9 L1781.5,415.2 L1783.0,415.5 L1784.5,415.8 L1785.9,416.1 L1787.4,416.4 L1788.9,416.7 L1790.4,416.9 L1791.8,417.2 L1793.3,417.5 L1794.8,417.7 L1796.3,418.0 L1797.8,418.2 L1799.2,418.4 L1800.7,418.6 L1802.2,418.9 L1803.7,419.1 L1805.2,419.3 L1806.7,419.5 L1808.2,419.7 L1809.7,420.0 L1811.1,420.2 L1812.6,420.4 L1814.1,420.6 L1815.6,420.9 L1817.1,421.1 L1818.6,421.3 L1820.1,421.5 L1821.5,421.7 L1823.0,422.0 L1824.5,422.2 L1826.0,422.4 L1827.5,422.6 L1829.0,422.8 L1830.5,423.0 L1832.0,423.2 L1833.5,423.4 L1835.0,423.5 L1836.4,423.7 L1837.9,423.9 L1839.4,424.1 L1840.9,424.2 L1842.4,424.4 L1843.9,424.6 L1845.4,424.8 L1846.9,424.9 L1848.4,425.1 L1849.9,425.3 L1851.4,425.5 L1852.9,425.7 L1854.4,425.8 L1855.9,426.0 L1857.3,426.2 L1858.8,426.4 L1860.3,426.6 L1861.8,426.8 L1863.3,427.0 L1864.8,427.2 L1866.3,427.4 L1867.8,427.6 L1869.3,427.8 L1870.8,428.0 L1872.2,428.2 L1873.7,428.4 L1875.2,428.6 L1876.7,428.9 L1878.2,429.1 L1879.7,429.3 L1881.2,429.5 L1882.7,429.6 L1884.2,429.8 L1885.6,430.0 L1887.1,430.2 L1888.6,430.4 L1890.1,430.5 L1891.6,430.7 L1893.1,430.9 L1894.6,431.1 L1896.1,431.2 L1897.6,431.4 L1899.1,431.6 L1900.6,431.7 L1902.1,431.9 L1903.6,432.0 L1905.1,432.1 L1906.6,432.2 L1908.1,432.3 L1909.6,432.3 L1911.1,432.3 L1912.6,432.4 L1914.1,432.4 L1915.6,432.4 L1917.1,432.5 L1918.6,432.5 L1920.1,432.5 L1921.6,432.5 L1923.1,432.6 L1924.6,432.6 L1926.1,432.6 L1927.6,432.7 L1929.1,432.7 L1930.6,432.7 L1932.1,432.8 L1933.6,432.8 L1935.1,432.8 L1936.6,432.9 L1938.1,432.9 L1939.6,433.0 L1941.1,433.1 L1942.5,433.3 L1944.0,433.6 L1945.3,434.1 L1946.7,434.7 L1948.0,435.3 L1949.4,435.9 L1950.7,436.4 L1952.2,436.8 L1953.6,437.2 L1955.1,437.4 L1956.6,437.7 L1958.0,437.9 L1959.5,438.1 L1961.0,438.3 L1962.5,438.5 L1964.0,438.7 L1965.5,438.9 L1967.0,439.1 L1968.5,439.3 L1970.0,439.6 L1971.4,439.8 L1972.9,440.0 L1974.4,440.2 L1975.9,440.3 L1977.4,440.5 L1978.9,440.7 L1980.4,440.8 L1981.9,441.0 L1983.4,441.1 L1984.9,441.3 L1986.4,441.4 L1987.9,441.6 L1989.4,441.7 L1990.9,441.9 L1992.4,442.0 L1993.9,442.2 L1995.4,442.4 L1996.8,442.5 L1998.3,442.7 L1999.8,442.8 L2001.3,442.9 L2002.8,443.0 L2004.3,443.1 L2005.8,443.2 L2007.3,443.3 L2008.8,443.4 L2010.3,443.5 L2011.8,443.6 L2013.3,443.7 L2014.8,443.8 L2016.3,443.9 L2017.8,444.0 L2019.3,444.1 L2020.8,444.2 L2022.3,444.3 L2023.8,444.4 L2025.3,444.4 L2026.8,444.5 L2028.3,444.6 L2029.8,444.7 L2031.3,444.8 L2032.8,444.9 L2034.3,445.0 L2035.8,445.1 L2037.3,445.2 L2038.8,445.3 L2040.3,445.3 L2041.8,445.4 L2043.3,445.4 L2044.8,445.4 L2046.3,445.3 L2047.8,445.1 L2049.3,445.0 L2050.8,444.9 L2052.3,444.9 L2053.7,445.1 L2055.2,445.3 L2056.7,445.6 L2058.1,445.9 L2059.6,446.2 L2061.0,446.5 L2062.5,446.8 L2064.0,447.0 L2065.5,447.2 L2067.0,447.4 L2068.5,447.6 L2070.0,447.7 L2071.5,447.9 L2073.0,448.0 L2074.5,448.1 L2076.0,448.2 L2077.5,448.3 L2079.0,448.4 L2080.5,448.6 L2082.0,448.7 L2083.5,448.8 L2085.0,448.9 L2086.5,449.0 L2088.0,449.1 L2089.5,449.2 L2091.0,449.2 L2092.5,449.3 L2094.0,449.3 L2095.5,449.3 L2097.0,449.4 L2098.5,449.4 L2100.0,449.4 L2101.5,449.4 L2103.0,449.4 L2104.5,449.4 L2106.0,449.4 L2107.5,449.5 L2109.0,449.5 L2110.5,449.5 L2112.0,449.5" stroke="#000"/>
<path d="M1311.2,222.4 L1311.9,223.7 L1312.6,225.1 L1313.2,226.4 L1313.9,227.8 L1314.6,229.1 L1315.3,230.5 L1315.9,231.8 L1316.6,233.1 L1317.3,234.5 L1318.0,235.8 L1318.6,237.2 L1319.3,238.5 L1319.9,239.9 L1320.6,241.2 L1321.2,242.6 L1321.9,244.0 L1322.5,245.3 L1323.1,246.7 L1323.7,248.1 L1324.4,249.4 L1325.0,250.8 L1325.6,252.2 L1326.2,253.5 L1326.9,254.9 L1327.6,256.2 L1328.3,257.5 L1329.1,258.7 L1330.0,259.8 L1331.1,260.8 L1332.2,261.8 L1333.4,262.6 L1334.7,263.5 L1335.9,264.2 L1337.2,264.7 L1338.6,265.0 L1340.0,265.2 L1341.4,265.2 L1342.9,265.0 L1344.4,264.9 L1345.8,264.7 L1347.3,264.6 L1348.7,264.7 L1350.0,265.0 L1351.3,265.6 L1352.4,266.3 L1353.6,267.2 L1354.7,268.2 L1355.8,269.2 L1356.9,270.2 L1358.0,271.3 L1359.0,272.4 L1359.9,273.5 L1360.7,274.7 L1361.5,276.0 L1362.1,277.3 L1362.7,278.7 L1363.3,280.1 L1363.8,281.5 L1364.4,282.9 L1364.9,284.3 L1365.5,285.7 L1366.0,287.1 L1366.5,288.5 L1367.1,289.9 L1367.6,291.3 L1368.1,292.7 L1368.5,294.2 L1368.9,295.6 L1369.4,297.0 L1369.8,298.5 L1370.2,299.9 L1370.6,301.4 L1371.0,302.8 L1371.4,304.3 L1371.9,305.7 L1372.3,307.2 L1372.7,308.6 L1373.1,310.1 L1373.5,311.5 L1373.9,312.9 L1374.3,314.4 L1374.8,315.8 L1375.2,317.3 L1375.6,318.7 L1376.1,320.1 L1376.5,321.6 L1377.0,323.0 L1377.4,324.4 L1377.9,325.9 L1378.3,327.3 L1378.8,328.8 L1379.2,330.2 L1379.7,331.6 L1380.1,333.1 L1380.6,334.5 L1381.0,335.9 L1381.5,337.4 L1382.0,338.8 L1382.4,340.2 L1382.9,341.7 L1383.4,343.1 L1383.9,344.5 L1384.5,345.9 L1385.1,347.2 L1385.7,348.6 L1386.4,349.9 L1387.0,351.3 L1387.7,352.6 L1388.4,354.0 L1389.0,355.3 L1389.7,356.7 L1390.4,358.0 L1391.1,359.4 L1391.7,360.7 L1392.4,362.1 L1393.1,363.4 L1393.8,364.7 L1394.6,365.9 L1395.5,367.2 L1396.4,368.4 L1397.4,369.5 L1398.3,370.6 L1399.3,371.8 L1400.3,372.9 L1401.3,374.0 L1402.3,375.2 L1403.3,376.3 L1404.3,377.4 L1405.4,378.4 L1406.5,379.4 L1407.7,380.2 L1408.9,381.0 L1410.3,381.7 L1411.6,382.3 L1413.0,382.8 L1414.4,383.4 L1415.8,384.0 L1417.2,384.5 L1418.6,385.1 L1420.0,385.6 L1421.4,386.2 L1422.8,386.8 L1424.2,387.3 L1425.6,387.8 L1427.0,388.4 L1428.4,388.9 L1429.8,389.5 L1431.2,390.0 L1432.6,390.5 L1434.0,391.0 L1435.4,391.6 L1436.8,392.1 L1438.2,392.6 L1439.6,393.2 L1441.0,393.7 L1442.4,394.3 L1443.8,394.8 L1445.2,395.5 L1446.5,396.1 L1447.8,396.9 L1449.1,397.6 L1450.4,398.4 L1451.7,399.2 L1453.0,400.0 L1454.2,400.8 L1455.5,401.6 L1456.8,402.4 L1458.1,403.2 L1459.3,404.0 L1460.6,404.8 L1461.9,405.6 L1463.2,406.4 L1464.4,407.2 L1465.7,408.0 L1466.9,408.8 L1468.1,409.7 L1469.3,410.6 L1470.5,411.5 L1471.7,412.5 L1472.9,413.4 L1474.1,414.3 L1475.2,415.3 L1476.4,416.2 L1477.6,417.2 L1478.8,418.1 L1479.9,419.0 L1481.1,420.0 L1482.3,420.9 L1483.5,421.8 L1484.6,422.8 L1485.8,423.7 L1487.0,424.7 L1488.2,425.6 L1489.3,426.5 L1490.5,427.5 L1491.7,428.4 L1492.9,429.4 L1494.0,430.3 L1495.2,431.2 L1496.4,432.2 L1497.6,433.1 L1498.7,434.1 L1499.9,435.0 L1501.1,436.0 L1502.2,436.9 L1503.4,437.8 L1504.6,438.8 L1505.8,439.7 L1506.9,440.7 L1508.1,441.6 L1509.3,442.5 L1510.5,443.5 L1511.6,444.4 L1512.8,445.4 L1514.0,446.3 L1515.1,447.2 L1516.3,448.2 L1517.5,449.1 L1518.7,450.1 L1519.8,451.0 L1521.0,451.9 L1522.2,452.9 L1523.4,453.8 L1524.5,454.8 L1525.7,455.7 L1526.9,456.6 L1528.1,457.6 L1529.2,458.5 L1530.4,459.4 L1531.6,460.4 L1532.8,461.3 L1534.0,462.3 L1535.1,463.2 L1536.3,464.1 L1537.5,465.0 L1538.7,465.9 L1539.9,466.8 L1541.2,467.7 L1542.4,468.5 L1543.6,469.4 L1544.9,470.3 L1546.1,471.1 L1547.3,472.0 L1548.5,472.9 L1549.8,473.7 L1551.0,474.6 L1552.2,475.4 L1553.5,476.3 L1554.7,477.1 L1556.0,477.9 L1557.3,478.7 L1558.6,479.5 L1559.9,480.2 L1561.2,480.9 L1562.5,481.7 L1563.8,482.4 L1565.1,483.2 L1566.5,483.9 L1567.8,484.6 L1569.1,485.4 L1570.4,486.1 L1571.7,486.8 L1573.0,487.6 L1574.3,488.3 L1575.6,489.0 L1576.9,489.8 L1578.3,490.5 L1579.6,491.2 L1580.9,491.9 L1582.3,492.5 L1583.7,493.2 L1585.0,493.8 L1586.4,494.4 L1587.7,495.0 L1589.1,495.7 L1590.5,496.3 L1591.9,496.9 L1593.2,497.5 L1594.6,498.2 L1596.0,498.8 L1597.3,499.4 L1598.7,500.1 L1600.1,500.7 L1601.4,501.3 L1602.8,501.9 L1604.2,502.6 L1605.5,503.2 L1606.9,503.8 L1608.3,504.4 L1609.6,505.1 L1611.0,505.7 L1612.4,506.3 L1613.7,506.9 L1615.1,507.5 L1616.5,508.1 L1617.9,508.7 L1619.3,509.3 L1620.7,509.8 L1622.1,510.4 L1623.5,510.9 L1624.9,511.5 L1626.3,512.1 L1627.7,512.6 L1629.0,513.2 L1630.4,513.7 L1631.8,514.3 L1633.2,514.9 L1634.6,515.4 L1636.0,516.0 L1637.4,516.5 L1638.8,517.1 L1640.2,517.7 L1641.6,518.2 L1643.0,518.8 L1644.4,519.3 L1645.8,519.9 L1647.2,520.4 L1648.6,521.0 L1650.0,521.5 L1651.4,522.0 L1652.9,522.5 L1654.3,522.9 L1655.7,523.4 L1657.2,523.8 L1658.6,524.2 L1660.0,524.7 L1661.5,525.1 L1662.9,525.5 L1664.4,526.0 L1665.8,526.4 L1667.3,526.8 L1668.7,527.2 L1670.1,527.7 L1671.6,528.1 L1673.0,528.5 L1674.5,529.0 L1675.9,529.4 L1677.3,529.8 L1678.8,530.3 L1680.2,530.7 L1681.7,531.1 L1683.1,531.5 L1684.5,532.0 L1686.0,532.4 L1687.4,532.8 L1688.9,533.1 L1690.4,533.5 L1691.8,533.9 L1693.3,534.3 L1694.7,534.6 L1696.2,535.0 L1697.6,535.4 L1699.1,535.7 L1700.6,536.1 L1702.0,536.5 L1703.5,536.8 L1704.9,537.2 L1706.4,537.6 L1707.9,537.9 L1709.3,538.3 L1710.8,538.7 L1712.2,539.0 L1713.7,539.4 L1715.1,539.8 L1716.6,540.1 L1718.1,540.5 L1719.5,540.8 L1721.0,541.2 L1722.5,541.5 L1723.9,541.8 L1725.4,542.1 L1726.9,542.4 L1728.4,542.7 L1729.8,543.0 L1731.3,543.3 L1732.8,543.6 L1734.3,543.9 L1735.7,544.2 L1737.2,544.5 L1738.7,544.8 L1740.2,545.0 L1741.6,545.3 L1743.1,545.6 L1744.6,545.9 L1746.1,546.2 L1747.5,546.5 L1749.0,546.8 L1750.5,547.1 L1752.0,547.4 L1753.4,547.7 L1754.9,548.0 L1756.4,548.2 L1757.9,548.5 L1759.3,548.8 L1760.8,549.0 L1762.3,549.3 L1763.8,549.5 L1765.3,549.8 L1766.8,550.0 L1768.2,550.3 L1769.7,550.5 L1771.2,550.8 L1772.7,551.0 L1774.2,551.2 L1775.7,551.5 L1777.1,551.7 L1778.6,552.0 L1780.1,552.2 L1781.6,552.5 L1783.1,552.7 L1784.6,553.0 L1786.0,553.2 L1787.5,553.5 L1789.0,553.7 L1790.5,554.0 L1792.0,554.2 L1793.5,554.4 L1795.0,554.7 L1796.4,554.9 L1797.9,555.1 L1799.4,555.3 L1800.9,555.5 L1802.4,555.8 L1803.9,556.0 L1805.4,556.2 L1806.9,556.4 L1808.3,556.6 L1809.8,556.8 L1811.3,557.1 L1812.8,557.3 L1814.3,557.5 L1815.8,557.7 L1817.3,557.9 L1818.8,558.2 L1820.2,558.4 L1821.7,558.6 L1823.2,558.8 L1824.7,559.0 L1826.2,559.2 L1827.7,559.5 L1829.2,559.7 L1830.7,559.9 L1832.2,560.1 L1833.6,560.3 L1835.1,560.5 L1836.6,560.7 L1838.1,560.9 L1839.6,561.1 L1841.1,561.3 L1842.6,561.6 L1844.1,561.8 L1845.6,562.0 L1847.0,562.2 L1848.5,562.4 L1850.0,562.6 L1851.5,562.8 L1853.0,563.0 L1854.5,563.2 L1856.0,563.4 L1857.5,563.6 L1859.0,563.8 L1860.5,564.0 L1861.9,564.2 L1863.4,564.4 L1864.9,564.6 L1866.4,564.8 L1867.9,565.0 L1869.4,565.2 L1870.9,565.4 L1872.4,565.5 L1873.9,565.7 L1875.4,565.9 L1876.9,566.1 L1878.4,566.3 L1879.9,566.5 L1881.3,566.7 L1882.8,566.8 L1884.3,567.0 L1885.8,567.2 L1887.3,567.4 L1888.8,567.6 L1890.3,567.8 L1891.8,567.9 L1893.3,568.1 L1894.8,568.3 L1896.3,568.5 L1897.8,568.6 L1899.3,568.8 L1900.8,568.9 L1902.3,569.1 L1903.8,569.2 L1905.2,569.4 L1906.7,569.6 L1908.2,569.7 L1909.7,569.9 L1911.2,570.0 L1912.7,570.2 L1914.2,570.3 L1915.7,570.5 L1917.2,570.6 L1918.7,570.8 L1920.2,570.9 L1921.7,571.1 L1923.2,571.2 L1924.7,571.4 L1926.2,571.5 L1927.7,571.7 L1929.2,571.8 L1930.7,572.0 L1932.2,572.1 L1933.7,572.3 L1935.2,572.5 L1936.7,572.6 L1938.2,572.8 L1939.7,572.9 L1941.1,573.1 L1942.6,573.3 L1944.1,573.4 L1945.6,573.6 L1947.1,573.7 L1948.6,573.9 L1950.1,574.1 L1951.6,574.2 L1953.1,574.4 L1954.6,574.5 L1956.1,574.7 L1957.6,574.9 L1959.1,575.0 L1960.6,575.2 L1962.1,575.3 L1963.6,575.5 L1965.1,575.7 L1966.6,575.8 L1968.1,576.0 L1969.6,576.2 L1971.1,576.3 L1972.5,576.5 L1974.0,576.7 L1975.5,576.8 L1977.0,577.0 L1978.5,577.1 L1980.0,577.3 L1981.5,577.5 L1983.0,577.6 L1984.5,577.8 L1986.0,578.0 L1987.5,578.1 L1989.0,578.3 L1990.5,578.5 L1992.0,578.6 L1993.5,578.8 L1995.0,579.0 L1996.5,579.1 L1998.0,579.3 L1999.5,579.4 L2000.9,579.6 L2002.4,579.8 L2003.9,579.9 L2005.4,580.0 L2006.9,580.2 L2008.4,580.3 L2009.9,580.5 L2011.4,580.6 L2012.9,580.7 L2014.4,580.9 L2015.9,581.0 L2017.4,581.2 L2018.9,581.3 L2020.4,581.4 L2021.9,581.6 L2023.4,581.7 L2024.9,581.9 L2026.4,582.0 L2027.9,582.1 L2029.4,582.3 L2030.9,582.4 L2032.4,582.6 L2033.9,582.7 L2035.4,582.8 L2036.9,582.9 L2038.4,583.0 L2039.9,583.1 L2041.4,583.2 L2042.9,583.3 L2044.4,583.4 L2045.9,583.5 L2047.4,583.6 L2048.9,583.7 L2050.4,583.7 L2051.9,583.8 L2053.4,583.9 L2054.9,584.0 L2056.4,584.1 L2057.9,584.2 L2059.4,584.3 L2060.9,584.3 L2062.4,584.4 L2063.9,584.5 L2065.4,584.6 L2066.9,584.7 L2068.4,584.8 L2069.9,584.8 L2071.4,584.9 L2072.9,585.0 L2074.4,585.0 L2075.9,585.1 L2077.4,585.1 L2078.9,585.2 L2080.4,585.2 L2081.9,585.3 L2083.4,585.3 L2084.9,585.4 L2086.4,585.4 L2087.9,585.5 L2089.5,585.5 L2091.0,585.6 L2092.5,585.6 L2094.0,585.7 L2095.5,585.7 L2097.0,585.7 L2098.5,585.8 L2100.0,585.8 L2101.5,585.9 L2103.0,585.9 L2104.5,586.0 L2106.0,586.0 L2107.5,586.1 L2109.0,586.1 L2110.5,586.2 L2112.0,586.2" stroke="#d2222c"/>
<path d="M1311.1,470.5 L1311.8,471.8 L1312.5,473.2 L1313.2,474.5 L1313.9,475.8 L1314.6,477.1 L1315.3,478.5 L1316.0,479.8 L1316.7,481.1 L1317.4,482.4 L1318.2,483.8 L1318.9,485.1 L1319.6,486.4 L1320.3,487.7 L1321.1,489.0 L1321.9,490.3 L1322.7,491.5 L1323.7,492.6 L1324.7,493.7 L1325.7,494.8 L1326.8,495.8 L1327.9,496.8 L1329.1,497.6 L1330.4,498.3 L1331.7,498.9 L1333.1,499.3 L1334.5,499.6 L1336.0,499.8 L1337.4,499.8 L1338.9,499.7 L1340.3,499.4 L1341.8,499.1 L1343.2,498.6 L1344.5,498.0 L1345.8,497.3 L1347.1,496.5 L1348.3,495.7 L1349.5,494.8 L1350.7,493.9 L1351.8,492.9 L1352.9,491.9 L1354.0,490.8 L1355.0,489.7 L1356.0,488.6 L1357.0,487.5 L1358.0,486.4 L1359.0,485.2 L1360.0,484.1 L1360.9,483.0 L1361.9,481.8 L1362.9,480.7 L1363.8,479.5 L1364.7,478.3 L1365.7,477.1 L1366.5,475.9 L1367.4,474.7 L1368.2,473.4 L1369.0,472.2 L1369.8,470.9 L1370.6,469.6 L1371.4,468.4 L1372.2,467.1 L1373.0,465.8 L1373.8,464.5 L1374.5,463.2 L1375.3,461.9 L1376.0,460.6 L1376.8,459.3 L1377.5,458.0 L1378.2,456.7 L1378.9,455.4 L1379.7,454.0 L1380.4,452.7 L1381.2,451.4 L1381.9,450.1 L1382.6,448.8 L1383.4,447.5 L1384.1,446.2 L1384.9,444.9 L1385.7,443.6 L1386.4,442.3 L1387.2,441.1 L1388.1,439.9 L1389.1,438.9 L1390.2,438.0 L1391.4,437.3 L1392.7,436.8 L1394.0,436.7 L1395.3,436.8 L1396.6,437.2 L1397.8,437.9 L1398.9,438.8 L1399.9,439.8 L1400.8,440.9 L1401.6,442.2 L1402.3,443.4 L1403.0,444.8 L1403.7,446.1 L1404.2,447.5 L1404.8,448.9 L1405.3,450.3 L1405.8,451.7 L1406.3,453.2 L1406.8,454.6 L1407.2,456.0 L1407.7,457.4 L1408.2,458.9 L1408.6,460.3 L1409.0,461.7 L1409.4,463.2 L1409.9,464.6 L1410.3,466.1 L1410.7,467.5 L1411.1,468.9 L1411.5,470.4 L1412.0,471.8 L1412.4,473.3 L1412.8,474.7 L1413.2,476.2 L1413.7,477.6 L1414.1,479.0 L1414.5,480.5 L1415.0,481.9 L1415.4,483.3 L1415.8,484.8 L1416.3,486.2 L1416.7,487.7 L1417.1,489.1 L1417.6,490.5 L1418.0,492.0 L1418.4,493.4 L1418.8,494.9 L1419.3,496.3 L1419.7,497.7 L1420.1,499.2 L1420.6,500.6 L1421.0,502.1 L1421.4,503.5 L1421.9,504.9 L1422.3,506.4 L1422.8,507.8 L1423.2,509.2 L1423.7,510.7 L1424.1,512.1 L1424.6,513.5 L1425.1,515.0 L1425.5,516.4 L1426.0,517.8 L1426.5,519.2 L1427.0,520.6 L1427.5,522.0 L1428.1,523.4 L1428.7,524.8 L1429.2,526.2 L1429.8,527.6 L1430.4,529.0 L1431.0,530.4 L1431.5,531.8 L1432.1,533.2 L1432.7,534.5 L1433.3,535.9 L1433.9,537.3 L1434.5,538.7 L1435.1,540.0 L1435.8,541.4 L1436.4,542.8 L1437.0,544.1 L1437.7,545.5 L1438.3,546.9 L1438.9,548.2 L1439.6,549.6 L1440.3,550.9 L1440.9,552.2 L1441.7,553.6 L1442.4,554.9 L1443.1,556.2 L1443.8,557.5 L1444.5,558.8 L1445.3,560.2 L1446.0,561.5 L1446.7,562.8 L1447.4,564.1 L1448.0,565.5 L1448.7,566.8 L1449.4,568.2 L1450.1,569.5 L1450.8,570.8 L1451.4,572.2 L1452.1,573.5 L1452.8,574.9 L1453.5,576.2 L1454.2,577.5 L1454.9,578.8 L1455.7,580.1 L1456.4,581.5 L1457.1,582.8 L1457.8,584.1 L1458.6,585.4 L1459.3,586.7 L1460.0,588.0 L1460.8,589.3 L1461.5,590.7 L1462.2,592.0 L1462.9,593.3 L1463.7,594.6 L1464.4,595.9 L1465.1,597.2 L1465.8,598.6 L1466.6,599.9 L1467.3,601.2 L1468.0,602.5 L1468.7,603.8 L1469.5,605.1 L1470.2,606.4 L1470.9,607.7 L1471.7,609.1 L1472.4,610.4 L1473.1,611.7 L1473.9,613.0 L1474.6,614.3 L1475.3,615.6 L1476.1,616.9 L1476.8,618.2 L1477.5,619.6 L1478.3,620.9 L1479.0,622.2 L1479.8,623.5 L1480.5,624.8 L1481.3,626.0 L1482.1,627.3 L1482.9,628.6 L1483.7,629.9 L1484.5,631.1 L1485.3,632.4 L1486.2,633.6 L1487.1,634.8 L1488.0,636.0 L1488.9,637.2 L1489.9,638.3 L1490.9,639.5 L1491.9,640.6 L1492.9,641.7 L1494.0,642.7 L1495.1,643.7 L1496.2,644.7 L1497.3,645.7 L1498.5,646.6 L1499.7,647.3 L1501.0,647.9 L1502.4,648.4 L1503.8,648.7 L1505.2,648.8 L1506.7,648.9 L1508.2,648.9 L1509.7,648.9 L1511.2,649.0 L1512.7,649.0 L1514.2,649.0 L1515.7,649.0 L1517.2,649.0 L1518.7,649.1 L1520.2,649.1 L1521.7,649.1 L1523.2,649.1 L1524.7,649.1 L1526.2,649.1 L1527.7,649.1 L1529.2,649.1 L1530.7,649.1 L1532.3,649.1 L1533.8,649.1 L1535.3,649.1 L1536.8,649.1 L1538.3,649.1 L1539.8,649.1 L1541.3,649.1 L1542.8,649.2 L1544.2,649.4 L1545.7,649.6 L1547.2,649.9 L1548.6,650.2 L1550.1,650.6 L1551.5,651.0 L1552.9,651.5 L1554.4,651.9 L1555.8,652.3 L1557.3,652.8 L1558.7,653.2 L1560.1,653.6 L1561.6,654.1 L1563.0,654.6 L1564.4,655.0 L1565.8,655.5 L1567.3,656.0 L1568.7,656.5 L1570.1,657.0 L1571.5,657.6 L1572.9,658.1 L1574.3,658.6 L1575.7,659.1 L1577.1,659.6 L1578.5,660.2 L1579.8,660.9 L1581.1,661.7 L1582.3,662.5 L1583.5,663.4 L1584.7,664.4 L1585.8,665.3 L1587.0,666.2 L1588.2,667.2 L1589.4,668.1 L1590.5,669.1 L1591.7,670.0 L1592.9,670.9 L1594.0,671.9 L1595.1,672.9 L1596.3,673.9 L1597.3,674.9 L1598.4,676.0 L1599.4,677.1 L1600.4,678.2 L1601.4,679.3 L1602.5,680.4 L1603.5,681.5 L1604.5,682.6 L1605.5,683.8 L1606.5,684.9 L1607.5,686.0 L1608.5,687.1 L1609.6,688.2 L1610.6,689.3 L1611.6,690.4 L1612.6,691.5 L1613.6,692.6 L1614.6,693.7 L1615.6,694.9 L1616.6,696.0 L1617.6,697.1 L1618.6,698.2 L1619.7,699.3 L1620.7,700.4 L1621.7,701.5 L1622.7,702.6 L1623.7,703.8 L1624.7,704.9 L1625.7,706.0 L1626.7,707.1 L1627.8,708.1 L1628.9,709.2 L1630.0,710.2 L1631.2,711.1 L1632.3,712.0 L1633.5,712.9 L1634.7,713.8 L1635.9,714.7 L1637.1,715.7 L1638.3,716.6 L1639.5,717.5 L1640.7,718.3 L1642.0,719.2 L1643.2,720.0 L1644.5,720.8 L1645.8,721.5 L1647.2,722.0 L1648.6,722.5 L1650.0,723.0 L1651.4,723.4 L1652.9,723.8 L1654.3,724.3 L1655.8,724.7 L1657.2,725.1 L1658.6,725.5 L1660.1,725.8 L1661.6,726.1 L1663.0,726.3 L1664.5,726.5 L1666.0,726.7 L1667.5,726.8 L1669.0,726.9 L1670.5,727.0 L1672.0,727.1 L1673.5,727.3 L1675.0,727.4 L1676.5,727.5 L1678.0,727.6 L1679.5,727.7 L1681.0,727.8 L1682.5,727.9 L1684.0,728.1 L1685.5,728.2 L1687.0,728.3 L1688.5,728.4 L1690.0,728.6 L1691.5,728.7 L1693.0,728.9 L1694.4,729.2 L1695.9,729.6 L1697.3,729.9 L1698.8,730.3 L1700.2,730.8 L1701.7,731.2 L1703.1,731.6 L1704.5,732.0 L1706.0,732.5 L1707.4,732.9 L1708.8,733.4 L1710.2,733.9 L1711.6,734.5 L1713.0,735.0 L1714.4,735.6 L1715.8,736.2 L1717.1,736.9 L1718.5,737.5 L1719.9,738.1 L1721.2,738.7 L1722.6,739.3 L1724.0,740.0 L1725.3,740.6 L1726.7,741.3 L1728.0,742.0 L1729.3,742.7 L1730.6,743.4 L1732.0,744.2 L1733.3,744.9 L1734.6,745.6 L1735.9,746.3 L1737.2,747.1 L1738.5,747.8 L1739.8,748.5 L1741.2,749.2 L1742.5,749.9 L1743.8,750.6 L1745.2,751.3 L1746.5,752.0 L1747.8,752.7 L1749.2,753.3 L1750.5,754.0 L1751.9,754.7 L1753.2,755.3 L1754.6,756.0 L1755.9,756.7 L1757.3,757.3 L1758.6,757.9 L1760.0,758.5 L1761.4,759.1 L1762.8,759.7 L1764.2,760.2 L1765.6,760.8 L1767.0,761.4 L1768.4,761.9 L1769.8,762.5 L1771.2,763.0 L1772.6,763.6 L1774.0,764.1 L1775.4,764.7 L1776.8,765.2 L1778.2,765.7 L1779.6,766.2 L1781.0,766.7 L1782.4,767.2 L1783.9,767.7 L1785.3,768.2 L1786.7,768.7 L1788.1,769.2 L1789.5,769.6 L1791.0,770.0 L1792.4,770.4 L1793.9,770.7 L1795.4,771.0 L1796.8,771.3 L1798.3,771.6 L1799.8,771.9 L1801.3,772.2 L1802.7,772.5 L1804.2,772.8 L1805.7,773.1 L1807.2,773.4 L1808.6,773.7 L1810.1,774.0 L1811.6,774.2 L1813.1,774.5 L1814.5,774.8 L1816.0,775.0 L1817.5,775.2 L1819.0,775.4 L1820.5,775.5 L1822.0,775.7 L1823.5,775.8 L1825.0,776.0 L1826.5,776.1 L1828.0,776.3 L1829.5,776.4 L1831.0,776.6 L1832.5,776.8 L1833.9,776.9 L1835.4,777.1 L1836.9,777.2 L1838.4,777.4 L1839.9,777.6 L1841.4,777.9 L1842.9,778.1 L1844.3,778.4 L1845.8,778.7 L1847.3,779.0 L1848.8,779.2 L1850.2,779.5 L1851.7,779.8 L1853.2,780.1 L1854.7,780.4 L1856.1,780.7 L1857.6,781.0 L1859.1,781.3 L1860.6,781.6 L1862.0,782.0 L1863.5,782.4 L1864.9,782.8 L1866.4,783.1 L1867.8,783.5 L1869.3,783.9 L1870.7,784.3 L1872.2,784.7 L1873.6,785.1 L1875.1,785.5 L1876.5,785.9 L1878.0,786.3 L1879.4,786.7 L1880.9,787.1 L1882.3,787.5 L1883.8,787.9 L1885.2,788.3 L1886.7,788.7 L1888.1,789.1 L1889.6,789.5 L1891.0,789.9 L1892.5,790.3 L1893.9,790.6 L1895.4,791.0 L1896.8,791.4 L1898.3,791.8 L1899.7,792.1 L1901.2,792.5 L1902.6,792.9 L1904.1,793.2 L1905.6,793.6 L1907.0,794.0 L1908.5,794.3 L1909.9,794.7 L1911.4,795.1 L1912.8,795.4 L1914.3,795.8 L1915.8,796.2 L1917.2,796.6 L1918.7,796.9 L1920.1,797.3 L1921.6,797.6 L1923.0,798.0 L1924.5,798.3 L1926.0,798.6 L1927.5,798.9 L1928.9,799.2 L1930.4,799.4 L1931.9,799.7 L1933.4,800.0 L1934.8,800.2 L1936.3,800.5 L1937.8,800.7 L1939.3,801.0 L1940.8,801.2 L1942.3,801.5 L1943.7,801.7 L1945.2,802.0 L1946.7,802.3 L1948.2,802.5 L1949.7,802.8 L1951.1,803.0 L1952.6,803.3 L1954.1,803.5 L1955.6,803.8 L1957.1,804.0 L1958.5,804.3 L1960.0,804.6 L1961.5,804.8 L1963.0,805.1 L1964.5,805.3 L1965.9,805.6 L1967.4,805.9 L1968.9,806.1 L1970.4,806.4 L1971.9,806.6 L1973.3,806.9 L1974.8,807.2 L1976.3,807.4 L1977.8,807.7 L1979.3,807.9 L1980.7,808.2 L1982.2,808.5 L1983.7,808.7 L1985.2,809.0 L1986.7,809.2 L1988.1,809.5 L1989.6,809.7 L1991.1,809.9 L1992.6,810.1 L1994.1,810.3 L1995.6,810.5 L1997.1,810.7 L1998.6,810.9 L2000.0,811.1 L2001.5,811.3 L2003.0,811.5 L2004.5,811.6 L2006.0,811.8 L2007.5,812.0 L2009.0,812.2 L2010.5,812.4 L2012.0,812.6 L2013.5,812.8 L2015.0,813.0 L2016.4,813.1 L2017.9,813.3 L2019.4,813.5 L2020.9,813.7 L2022.4,813.9 L2023.9,814.1 L2025.4,814.3 L2026.9,814.5 L2028.4,814.6 L2029.9,814.8 L2031.4,815.0 L2032.8,815.2 L2034.3,815.4 L2035.8,815.6 L2037.3,815.7 L2038.8,815.9 L2040.3,816.1 L2041.8,816.3 L2043.3,816.5 L2044.8,816.7 L2046.3,816.8 L2047.8,817.0 L2049.2,817.2 L2050.7,817.4 L2052.2,817.6 L2053.7,817.8 L2055.2,818.0 L2056.7,818.1 L2058.2,818.3 L2059.7,818.5 L2061.2,818.7 L2062.7,818.9 L2064.2,819.1 L2065.6,819.3 L2067.1,819.5 L2068.6,819.6 L2070.1,819.8 L2071.6,820.0 L2073.1,820.2 L2074.6,820.4 L2076.1,820.6 L2077.6,820.8 L2079.1,821.0 L2080.6,821.1 L2082.0,821.3 L2083.5,821.5 L2085.0,821.7 L2086.5,821.8 L2088.0,822.0 L2089.5,822.1 L2091.0,822.2 L2092.5,822.3 L2094.0,822.4 L2095.5,822.5 L2097.0,822.6 L2098.5,822.7 L2100.0,822.8 L2101.5,822.9 L2103.0,823.0 L2104.5,823.1 L2106.0,823.2 L2107.5,823.3 L2109.0,823.4 L2110.5,823.5 L2112.0,823.6" stroke="#2320b0"/>
<path d="M1310.4,596.0 L1311.4,597.1 L1312.3,598.3 L1313.3,599.4 L1314.3,600.6 L1315.2,601.7 L1316.2,602.9 L1317.2,604.1 L1318.1,605.2 L1319.0,606.4 L1319.9,607.6 L1320.7,608.9 L1321.5,610.1 L1322.3,611.4 L1323.0,612.8 L1323.8,614.1 L1324.5,615.4 L1325.2,616.7 L1326.0,618.0 L1326.7,619.3 L1327.4,620.6 L1328.2,621.9 L1328.9,623.3 L1329.6,624.6 L1330.4,625.9 L1331.1,627.2 L1331.8,628.5 L1332.5,629.8 L1333.3,631.2 L1334.0,632.5 L1334.7,633.8 L1335.5,635.1 L1336.2,636.4 L1337.1,637.6 L1338.0,638.7 L1339.0,639.7 L1340.2,640.6 L1341.4,641.4 L1342.7,642.2 L1344.0,643.0 L1345.3,643.6 L1346.6,644.2 L1347.9,644.6 L1349.3,644.7 L1350.7,644.6 L1352.1,644.4 L1353.6,644.1 L1355.0,643.7 L1356.5,643.3 L1357.9,642.9 L1359.4,642.5 L1360.8,642.1 L1362.3,641.8 L1363.8,641.6 L1365.3,641.3 L1366.7,641.1 L1368.2,641.0 L1369.5,641.1 L1370.8,641.3 L1372.0,641.9 L1373.1,642.7 L1374.1,643.7 L1375.1,644.8 L1376.0,645.9 L1376.9,647.1 L1377.8,648.3 L1378.6,649.6 L1379.4,650.8 L1380.1,652.2 L1380.7,653.5 L1381.3,654.9 L1381.8,656.3 L1382.4,657.7 L1382.9,659.1 L1383.5,660.5 L1384.0,661.9 L1384.6,663.3 L1385.1,664.7 L1385.6,666.1 L1386.1,667.6 L1386.6,669.0 L1387.1,670.4 L1387.5,671.8 L1388.0,673.3 L1388.5,674.7 L1389.0,676.1 L1389.4,677.5 L1389.9,679.0 L1390.4,680.4 L1390.9,681.8 L1391.4,683.2 L1392.0,684.6 L1392.5,686.0 L1393.1,687.4 L1393.7,688.8 L1394.2,690.2 L1394.8,691.6 L1395.4,693.0 L1396.0,694.4 L1396.6,695.7 L1397.2,697.1 L1397.8,698.5 L1398.4,699.9 L1399.0,701.2 L1399.6,702.6 L1400.2,704.0 L1400.9,705.3 L1401.5,706.7 L1402.1,708.1 L1402.8,709.4 L1403.5,710.7 L1404.3,712.0 L1405.0,713.3 L1405.8,714.6 L1406.6,715.9 L1407.4,717.2 L1408.2,718.4 L1409.0,719.7 L1409.9,721.0 L1410.7,722.2 L1411.5,723.4 L1412.4,724.7 L1413.3,725.9 L1414.2,727.1 L1415.1,728.3 L1416.0,729.5 L1416.9,730.7 L1417.9,731.9 L1418.8,733.1 L1419.7,734.2 L1420.6,735.4 L1421.6,736.6 L1422.5,737.8 L1423.5,738.9 L1424.5,740.0 L1425.5,741.1 L1426.6,742.2 L1427.7,743.2 L1428.7,744.3 L1429.8,745.3 L1430.9,746.4 L1431.9,747.5 L1433.0,748.5 L1434.1,749.6 L1435.2,750.6 L1436.3,751.6 L1437.4,752.6 L1438.5,753.6 L1439.6,754.7 L1440.7,755.7 L1441.9,756.7 L1443.0,757.7 L1444.1,758.7 L1445.2,759.7 L1446.3,760.7 L1447.4,761.7 L1448.5,762.7 L1449.6,763.8 L1450.7,764.8 L1451.8,765.8 L1452.9,766.9 L1454.0,767.9 L1455.1,768.9 L1456.2,770.0 L1457.2,771.0 L1458.3,772.1 L1459.2,773.3 L1460.2,774.4 L1461.1,775.6 L1462.0,776.8 L1462.9,778.0 L1463.8,779.2 L1464.7,780.4 L1465.6,781.6 L1466.5,782.8 L1467.4,784.0 L1468.3,785.3 L1469.2,786.5 L1470.1,787.7 L1471.0,788.9 L1471.9,790.1 L1472.8,791.3 L1473.6,792.5 L1474.5,793.8 L1475.4,795.0 L1476.3,796.2 L1477.1,797.4 L1478.0,798.7 L1478.9,799.9 L1479.8,801.1 L1480.6,802.3 L1481.5,803.6 L1482.3,804.8 L1483.1,806.1 L1484.0,807.3 L1484.8,808.6 L1485.6,809.8 L1486.5,811.1 L1487.3,812.3 L1488.1,813.6 L1489.0,814.9 L1489.8,816.1 L1490.7,817.3 L1491.5,818.6 L1492.4,819.8 L1493.3,821.0 L1494.1,822.3 L1495.0,823.5 L1495.9,824.7 L1496.7,825.9 L1497.6,827.2 L1498.5,828.4 L1499.4,829.6 L1500.3,830.8 L1501.3,831.9 L1502.2,833.1 L1503.3,834.2 L1504.3,835.3 L1505.3,836.3 L1506.4,837.4 L1507.5,838.5 L1508.5,839.5 L1509.6,840.6 L1510.7,841.6 L1511.8,842.6 L1512.9,843.6 L1514.1,844.6 L1515.3,845.5 L1516.4,846.5 L1517.6,847.4 L1518.8,848.3 L1520.0,849.2 L1521.2,850.1 L1522.4,851.0 L1523.7,851.8 L1524.9,852.6 L1526.2,853.4 L1527.5,854.2 L1528.8,855.0 L1530.1,855.8 L1531.4,856.5 L1532.7,857.3 L1534.0,858.1 L1535.3,858.8 L1536.6,859.5 L1537.9,860.2 L1539.3,860.8 L1540.7,861.4 L1542.0,862.0 L1543.4,862.6 L1544.8,863.1 L1546.2,863.7 L1547.6,864.3 L1549.0,864.8 L1550.4,865.4 L1551.8,865.9 L1553.2,866.4 L1554.7,866.9 L1556.1,867.4 L1557.5,867.9 L1558.9,868.4 L1560.4,868.9 L1561.8,869.3 L1563.2,869.8 L1564.6,870.3 L1566.1,870.8 L1567.5,871.2 L1568.9,871.6 L1570.4,872.1 L1571.8,872.5 L1573.3,872.9 L1574.7,873.2 L1576.2,873.6 L1577.6,874.0 L1579.1,874.4 L1580.6,874.8 L1582.0,875.2 L1583.5,875.5 L1584.9,875.9 L1586.4,876.3 L1587.8,876.7 L1589.3,877.0 L1590.8,877.4 L1592.2,877.8 L1593.7,878.1 L1595.1,878.5 L1596.6,878.9 L1598.0,879.2 L1599.5,879.6 L1601.0,880.0 L1602.4,880.3 L1603.9,880.7 L1605.3,881.1 L1606.8,881.5 L1608.2,881.9 L1609.7,882.3 L1611.1,882.8 L1612.5,883.3 L1613.9,883.8 L1615.3,884.3 L1616.8,884.8 L1618.2,885.3 L1619.6,885.9 L1621.0,886.4 L1622.4,886.9 L1623.8,887.5 L1625.2,888.0 L1626.6,888.5 L1628.0,889.0 L1629.4,889.6 L1630.8,890.1 L1632.2,890.6 L1633.7,891.2 L1635.1,891.7 L1636.5,892.2 L1637.9,892.8 L1639.3,893.3 L1640.7,893.8 L1642.1,894.4 L1643.5,895.0 L1644.9,895.5 L1646.3,896.1 L1647.7,896.6 L1649.1,897.2 L1650.5,897.7 L1651.9,898.3 L1653.3,898.9 L1654.7,899.4 L1656.0,900.0 L1657.4,900.5 L1658.8,901.1 L1660.2,901.7 L1661.6,902.2 L1663.0,902.8 L1664.4,903.3 L1665.8,903.9 L1667.2,904.4 L1668.6,905.0 L1670.0,905.5 L1671.5,906.0 L1672.9,906.5 L1674.3,907.0 L1675.7,907.5 L1677.1,908.0 L1678.6,908.5 L1680.0,909.0 L1681.4,909.5 L1682.8,910.0 L1684.2,910.5 L1685.7,911.0 L1687.1,911.5 L1688.5,911.9 L1689.9,912.4 L1691.3,912.9 L1692.8,913.4 L1694.2,913.9 L1695.6,914.4 L1697.0,914.9 L1698.4,915.4 L1699.9,915.9 L1701.3,916.4 L1702.7,916.9 L1704.1,917.4 L1705.5,917.9 L1707.0,918.4 L1708.4,918.9 L1709.8,919.4 L1711.2,919.9 L1712.6,920.4 L1714.1,920.9 L1715.5,921.4 L1716.9,921.9 L1718.3,922.4 L1719.7,922.9 L1721.2,923.4 L1722.6,923.8 L1724.0,924.3 L1725.4,924.8 L1726.9,925.3 L1728.3,925.8 L1729.7,926.2 L1731.2,926.7 L1732.6,927.1 L1734.0,927.5 L1735.5,928.0 L1736.9,928.4 L1738.4,928.8 L1739.8,929.3 L1741.2,929.7 L1742.7,930.1 L1744.1,930.6 L1745.6,931.0 L1747.0,931.4 L1748.4,931.9 L1749.9,932.3 L1751.3,932.7 L1752.8,933.2 L1754.2,933.6 L1755.7,934.0 L1757.1,934.4 L1758.6,934.8 L1760.0,935.2 L1761.5,935.6 L1762.9,935.9 L1764.4,936.3 L1765.8,936.7 L1767.3,937.0 L1768.8,937.4 L1770.2,937.8 L1771.7,938.1 L1773.1,938.5 L1774.6,938.9 L1776.1,939.2 L1777.5,939.6 L1779.0,940.0 L1780.4,940.3 L1781.9,940.7 L1783.4,941.1 L1784.8,941.4 L1786.3,941.7 L1787.7,942.1 L1789.2,942.4 L1790.7,942.7 L1792.2,943.0 L1793.6,943.3 L1795.1,943.6 L1796.6,943.9 L1798.1,944.2 L1799.5,944.5 L1801.0,944.8 L1802.5,945.1 L1804.0,945.4 L1805.4,945.6 L1806.9,945.9 L1808.4,946.2 L1809.9,946.5 L1811.3,946.8 L1812.8,947.1 L1814.3,947.4 L1815.8,947.6 L1817.3,947.9 L1818.7,948.1 L1820.2,948.3 L1821.7,948.5 L1823.2,948.7 L1824.7,948.9 L1826.2,949.1 L1827.7,949.2 L1829.2,949.4 L1830.7,949.6 L1832.2,949.8 L1833.7,950.0 L1835.2,950.2 L1836.7,950.4 L1838.1,950.5 L1839.6,950.7 L1841.1,950.9 L1842.6,951.1 L1844.1,951.3 L1845.6,951.4 L1847.1,951.5 L1848.6,951.6 L1850.1,951.7 L1851.6,951.8 L1853.1,951.9 L1854.6,952.0 L1856.1,952.1 L1857.6,952.2 L1859.1,952.3 L1860.6,952.5 L1862.1,952.7 L1863.6,952.9 L1865.1,953.1 L1866.6,953.3 L1868.1,953.5 L1869.6,953.7 L1871.0,954.0 L1872.5,954.2 L1874.0,954.4 L1875.5,954.6 L1877.0,954.8 L1878.5,955.1 L1880.0,955.3 L1881.5,955.5 L1882.9,955.7 L1884.4,956.0 L1885.9,956.2 L1887.4,956.4 L1888.9,956.6 L1890.4,956.8 L1891.9,957.1 L1893.4,957.3 L1894.8,957.5 L1896.3,957.7 L1897.8,957.8 L1899.3,958.0 L1900.8,958.1 L1902.3,958.3 L1903.8,958.4 L1905.3,958.6 L1906.8,958.7 L1908.3,958.9 L1909.8,959.0 L1911.3,959.2 L1912.8,959.3 L1914.3,959.5 L1915.8,959.6 L1917.3,959.8 L1918.8,959.9 L1920.3,960.1 L1921.8,960.2 L1923.3,960.3 L1924.8,960.5 L1926.3,960.6 L1927.8,960.8 L1929.3,961.0 L1930.8,961.1 L1932.3,961.3 L1933.8,961.5 L1935.2,961.7 L1936.7,961.8 L1938.2,962.0 L1939.7,962.2 L1941.2,962.4 L1942.7,962.6 L1944.2,962.8 L1945.7,963.0 L1947.2,963.2 L1948.7,963.4 L1950.2,963.5 L1951.7,963.7 L1953.2,963.9 L1954.6,964.1 L1956.1,964.3 L1957.6,964.5 L1959.1,964.7 L1960.6,964.9 L1962.1,965.1 L1963.6,965.3 L1965.1,965.4 L1966.6,965.6 L1968.1,965.8 L1969.6,966.0 L1971.1,966.2 L1972.6,966.4 L1974.0,966.6 L1975.5,966.7 L1977.0,966.9 L1978.5,967.1 L1980.0,967.3 L1981.5,967.5 L1983.0,967.7 L1984.5,967.9 L1986.0,968.0 L1987.5,968.2 L1989.0,968.4 L1990.5,968.6 L1992.0,968.8 L1993.5,969.0 L1994.9,969.2 L1996.4,969.3 L1997.9,969.5 L1999.4,969.7 L2000.9,969.9 L2002.4,970.0 L2003.9,970.2 L2005.4,970.4 L2006.9,970.5 L2008.4,970.7 L2009.9,970.8 L2011.4,971.0 L2012.9,971.1 L2014.4,971.3 L2015.9,971.4 L2017.4,971.5 L2018.9,971.7 L2020.4,971.8 L2021.9,972.0 L2023.4,972.1 L2024.9,972.3 L2026.4,972.4 L2027.9,972.6 L2029.4,972.7 L2030.9,972.9 L2032.4,973.0 L2033.8,973.2 L2035.3,973.3 L2036.8,973.4 L2038.3,973.5 L2039.8,973.5 L2041.4,973.6 L2042.9,973.6 L2044.4,973.7 L2045.9,973.7 L2047.4,973.8 L2048.9,973.8 L2050.4,973.8 L2051.9,973.9 L2053.4,973.9 L2054.9,973.9 L2056.4,974.0 L2057.9,974.0 L2059.4,974.1 L2060.9,974.1 L2062.4,974.1 L2063.9,974.2 L2065.4,974.2 L2066.9,974.3 L2068.4,974.3 L2069.9,974.3 L2071.4,974.4 L2072.9,974.4 L2074.4,974.5 L2075.9,974.6 L2077.4,974.6 L2078.9,974.7 L2080.4,974.8 L2081.9,974.8 L2083.4,974.9 L2085.0,975.0 L2086.5,975.0 L2088.0,975.1 L2089.5,975.2 L2091.0,975.2 L2092.5,975.3 L2094.0,975.4 L2095.5,975.4 L2097.0,975.5 L2098.5,975.6 L2100.0,975.7 L2101.5,975.7 L2103.0,975.8 L2104.5,975.9 L2106.0,975.9 L2107.5,976.0 L2109.0,976.1 L2110.5,976.1 L2112.0,976.2" stroke="#74206a"/>
<path d="M1311.8,761.8 L1312.1,763.3 L1312.4,764.7 L1312.7,766.2 L1313.0,767.7 L1313.3,769.2 L1313.6,770.6 L1313.9,772.1 L1314.2,773.6 L1314.5,775.1 L1314.8,776.5 L1315.1,778.0 L1315.3,779.5 L1315.6,781.0 L1315.8,782.4 L1316.1,783.9 L1316.3,785.4 L1316.5,786.9 L1316.7,788.4 L1316.9,789.9 L1317.2,791.4 L1317.4,792.9 L1317.6,794.3 L1317.8,795.8 L1318.0,797.3 L1318.3,798.8 L1318.5,800.3 L1318.7,801.8 L1318.9,803.3 L1319.2,804.7 L1319.4,806.2 L1319.6,807.7 L1319.9,809.2 L1320.1,810.7 L1320.3,812.2 L1320.6,813.7 L1320.8,815.1 L1321.0,816.6 L1321.3,818.1 L1321.5,819.6 L1321.8,821.1 L1322.0,822.6 L1322.2,824.0 L1322.5,825.5 L1322.7,827.0 L1322.9,828.5 L1323.2,830.0 L1323.4,831.5 L1323.7,832.9 L1324.0,834.4 L1324.2,835.9 L1324.5,837.4 L1324.8,838.8 L1325.1,840.3 L1325.4,841.8 L1325.7,843.3 L1326.0,844.7 L1326.3,846.2 L1326.6,847.7 L1326.9,849.2 L1327.2,850.6 L1327.5,852.1 L1327.8,853.6 L1328.1,855.1 L1328.4,856.5 L1328.7,858.0 L1329.0,859.5 L1329.3,860.9 L1329.6,862.4 L1329.9,863.9 L1330.3,865.3 L1330.7,866.8 L1331.0,868.3 L1331.4,869.7 L1331.7,871.2 L1332.1,872.6 L1332.5,874.1 L1332.8,875.5 L1333.2,877.0 L1333.6,878.5 L1333.9,879.9 L1334.3,881.4 L1334.6,882.8 L1335.0,884.3 L1335.3,885.8 L1335.6,887.2 L1335.9,888.7 L1336.2,890.2 L1336.5,891.7 L1336.7,893.1 L1337.0,894.6 L1337.3,896.1 L1337.6,897.6 L1337.9,899.0 L1338.2,900.5 L1338.6,902.0 L1338.9,903.4 L1339.3,904.9 L1339.7,906.3 L1340.1,907.8 L1340.5,909.2 L1340.8,910.7 L1341.2,912.1 L1341.6,913.6 L1342.0,915.0 L1342.4,916.5 L1342.8,917.9 L1343.2,919.4 L1343.7,920.8 L1344.1,922.3 L1344.6,923.7 L1345.0,925.1 L1345.5,926.6 L1346.0,928.0 L1346.4,929.4 L1346.9,930.8 L1347.4,932.3 L1347.9,933.7 L1348.3,935.1 L1348.8,936.5 L1349.3,938.0 L1349.8,939.4 L1350.3,940.8 L1350.8,942.2 L1351.4,943.6 L1351.9,945.0 L1352.4,946.4 L1353.0,947.8 L1353.5,949.2 L1354.1,950.6 L1354.6,952.0 L1355.2,953.4 L1355.7,954.8 L1356.3,956.2 L1356.8,957.6 L1357.4,959.0 L1357.9,960.4 L1358.5,961.8 L1359.0,963.2 L1359.6,964.6 L1360.2,966.0 L1360.7,967.4 L1361.3,968.8 L1361.8,970.2 L1362.4,971.6 L1363.0,973.0 L1363.5,974.4 L1364.1,975.7 L1364.7,977.1 L1365.3,978.5 L1366.0,979.8 L1366.6,981.2 L1367.3,982.5 L1368.0,983.9 L1368.7,985.2 L1369.3,986.6 L1370.0,987.9 L1370.7,989.2 L1371.3,990.6 L1372.0,991.9 L1372.7,993.3 L1373.4,994.6 L1374.2,995.9 L1374.9,997.2 L1375.7,998.5 L1376.5,999.7 L1377.3,1001.0 L1378.1,1002.3 L1378.9,1003.5 L1379.7,1004.8 L1380.5,1006.1 L1381.4,1007.3 L1382.2,1008.6 L1383.0,1009.9 L1383.8,1011.1 L1384.6,1012.4 L1385.5,1013.6 L1386.4,1014.8 L1387.3,1016.0 L1388.2,1017.2 L1389.2,1018.3 L1390.1,1019.5 L1391.1,1020.7 L1392.1,1021.8 L1393.0,1023.0 L1394.0,1024.1 L1395.0,1025.3 L1395.9,1026.4 L1396.9,1027.5 L1397.9,1028.7 L1398.9,1029.8 L1400.0,1030.8 L1401.0,1031.9 L1402.1,1032.9 L1403.3,1033.9 L1404.4,1034.9 L1405.5,1036.0 L1406.6,1037.0 L1407.7,1038.0 L1408.8,1039.0 L1410.0,1040.0 L1411.1,1040.9 L1412.3,1041.8 L1413.5,1042.7 L1414.7,1043.6 L1416.0,1044.4 L1417.3,1045.2 L1418.6,1046.0 L1419.8,1046.8 L1421.1,1047.5 L1422.4,1048.3 L1423.7,1049.1 L1425.0,1049.9 L1426.2,1050.7 L1427.5,1051.4 L1428.8,1052.2 L1430.2,1052.9 L1431.5,1053.6 L1432.8,1054.2 L1434.2,1054.9 L1435.6,1055.5 L1436.9,1056.2 L1438.3,1056.8 L1439.6,1057.4 L1441.0,1058.1 L1442.4,1058.7 L1443.7,1059.4 L1445.1,1060.0 L1446.5,1060.6 L1447.8,1061.2 L1449.2,1061.8 L1450.6,1062.3 L1452.0,1062.9 L1453.4,1063.4 L1454.9,1063.9 L1456.3,1064.3 L1457.7,1064.8 L1459.1,1065.3 L1460.5,1065.8 L1462.0,1066.3 L1463.4,1066.7 L1464.8,1067.2 L1466.3,1067.7 L1467.7,1068.1 L1469.1,1068.5 L1470.6,1068.9 L1472.0,1069.3 L1473.5,1069.6 L1475.0,1069.9 L1476.5,1070.2 L1477.9,1070.4 L1479.4,1070.7 L1480.9,1071.0 L1482.4,1071.3 L1483.8,1071.6 L1485.3,1071.9 L1486.8,1072.2 L1488.3,1072.5 L1489.7,1072.8 L1491.2,1073.1 L1492.6,1073.5 L1494.1,1073.8 L1495.6,1074.2 L1497.0,1074.6 L1498.5,1074.9 L1499.9,1075.3 L1501.4,1075.6 L1502.9,1075.9 L1504.4,1076.1 L1505.8,1076.4 L1507.3,1076.6 L1508.8,1076.8 L1510.3,1077.0 L1511.8,1077.2 L1513.3,1077.4 L1514.8,1077.6 L1516.3,1077.8 L1517.8,1078.0 L1519.2,1078.2 L1520.7,1078.4 L1522.2,1078.6 L1523.7,1078.8 L1525.2,1079.0 L1526.7,1079.2 L1528.2,1079.4 L1529.7,1079.5 L1531.2,1079.7 L1532.7,1079.9 L1534.2,1080.0 L1535.7,1080.2 L1537.2,1080.3 L1538.6,1080.5 L1540.1,1080.6 L1541.6,1080.8 L1543.1,1080.9 L1544.6,1081.1 L1546.1,1081.2 L1547.6,1081.4 L1549.1,1081.5 L1550.6,1081.7 L1552.1,1081.9 L1553.6,1082.0 L1555.1,1082.2 L1556.6,1082.3 L1558.1,1082.5 L1559.6,1082.6 L1561.1,1082.8 L1562.6,1082.9 L1564.1,1083.1 L1565.6,1083.2 L1567.1,1083.4 L1568.6,1083.5 L1570.0,1083.7 L1571.5,1083.8 L1573.0,1084.0 L1574.5,1084.1 L1576.0,1084.3 L1577.5,1084.4 L1579.0,1084.6 L1580.5,1084.7 L1582.0,1084.9 L1583.5,1085.0 L1585.0,1085.1 L1586.5,1085.3 L1588.0,1085.4 L1589.5,1085.5 L1591.0,1085.7 L1592.5,1085.8 L1594.0,1085.9 L1595.5,1086.1 L1597.0,1086.2 L1598.5,1086.3 L1600.0,1086.4 L1601.5,1086.6 L1603.0,1086.7 L1604.5,1086.8 L1606.0,1087.0 L1607.5,1087.1 L1609.0,1087.2 L1610.5,1087.4 L1612.0,1087.5 L1613.5,1087.6 L1615.0,1087.8 L1616.5,1087.9 L1617.9,1088.0 L1619.4,1088.1 L1620.9,1088.3 L1622.4,1088.4 L1623.9,1088.5 L1625.4,1088.7 L1626.9,1088.8 L1628.4,1088.9 L1629.9,1089.1 L1631.4,1089.2 L1632.9,1089.3 L1634.4,1089.5 L1635.9,1089.6 L1637.4,1089.7 L1638.9,1089.8 L1640.4,1090.0 L1641.9,1090.1 L1643.4,1090.2 L1644.9,1090.4 L1646.4,1090.5 L1647.9,1090.6 L1649.4,1090.8 L1650.9,1090.9 L1652.4,1091.0 L1653.9,1091.2 L1655.4,1091.3 L1656.9,1091.4 L1658.4,1091.6 L1659.9,1091.7 L1661.4,1091.8 L1662.9,1092.0 L1664.4,1092.1 L1665.9,1092.2 L1667.4,1092.4 L1668.9,1092.5 L1670.3,1092.6 L1671.8,1092.8 L1673.3,1092.9 L1674.8,1093.0 L1676.3,1093.2 L1677.8,1093.3 L1679.3,1093.4 L1680.8,1093.6 L1682.3,1093.7 L1683.8,1093.8 L1685.3,1094.0 L1686.8,1094.1 L1688.3,1094.2 L1689.8,1094.4 L1691.3,1094.5 L1692.8,1094.6 L1694.3,1094.8 L1695.8,1094.9 L1697.3,1095.0 L1698.8,1095.2 L1700.3,1095.3 L1701.8,1095.4 L1703.3,1095.6 L1704.8,1095.7 L1706.3,1095.8 L1707.8,1095.9 L1709.3,1096.1 L1710.8,1096.2 L1712.3,1096.3 L1713.8,1096.5 L1715.3,1096.6 L1716.8,1096.7 L1718.3,1096.9 L1719.8,1097.0 L1721.3,1097.1 L1722.8,1097.2 L1724.3,1097.4 L1725.7,1097.5 L1727.2,1097.6 L1728.7,1097.8 L1730.2,1097.9 L1731.7,1098.0 L1733.2,1098.2 L1734.7,1098.3 L1736.2,1098.4 L1737.7,1098.6 L1739.2,1098.7 L1740.7,1098.8 L1742.2,1098.9 L1743.7,1099.1 L1745.2,1099.2 L1746.7,1099.3 L1748.2,1099.4 L1749.7,1099.5 L1751.2,1099.7 L1752.7,1099.8 L1754.2,1099.9 L1755.7,1100.0 L1757.2,1100.1 L1758.7,1100.2 L1760.2,1100.3 L1761.7,1100.4 L1763.2,1100.5 L1764.7,1100.7 L1766.2,1100.8 L1767.7,1100.9 L1769.2,1101.0 L1770.7,1101.1 L1772.2,1101.2 L1773.7,1101.3 L1775.2,1101.4 L1776.7,1101.6 L1778.2,1101.7 L1779.7,1101.8 L1781.2,1101.9 L1782.7,1102.0 L1784.2,1102.1 L1785.7,1102.2 L1787.2,1102.3 L1788.7,1102.4 L1790.2,1102.6 L1791.7,1102.7 L1793.2,1102.8 L1794.7,1102.9 L1796.2,1103.0 L1797.7,1103.1 L1799.2,1103.2 L1800.7,1103.3 L1802.2,1103.5 L1803.7,1103.6 L1805.2,1103.7 L1806.7,1103.8 L1808.2,1104.0 L1809.7,1104.1 L1811.2,1104.2 L1812.7,1104.3 L1814.2,1104.4 L1815.7,1104.6 L1817.1,1104.7 L1818.6,1104.8 L1820.1,1104.9 L1821.6,1105.1 L1823.1,1105.2 L1824.6,1105.3 L1826.1,1105.4 L1827.6,1105.5 L1829.1,1105.7 L1830.6,1105.8 L1832.1,1105.9 L1833.6,1106.0 L1835.1,1106.2 L1836.6,1106.3 L1838.1,1106.4 L1839.6,1106.5 L1841.1,1106.7 L1842.6,1106.8 L1844.1,1106.9 L1845.6,1107.0 L1847.1,1107.1 L1848.6,1107.3 L1850.1,1107.4 L1851.6,1107.5 L1853.1,1107.6 L1854.6,1107.8 L1856.1,1107.9 L1857.6,1108.0 L1859.1,1108.1 L1860.6,1108.2 L1862.1,1108.3 L1863.6,1108.5 L1865.1,1108.6 L1866.6,1108.7 L1868.1,1108.8 L1869.6,1108.9 L1871.1,1109.0 L1872.6,1109.1 L1874.1,1109.2 L1875.6,1109.3 L1877.1,1109.5 L1878.6,1109.6 L1880.1,1109.7 L1881.6,1109.8 L1883.1,1109.9 L1884.6,1110.0 L1886.1,1110.1 L1887.6,1110.2 L1889.1,1110.3 L1890.6,1110.4 L1892.1,1110.6 L1893.6,1110.7 L1895.1,1110.8 L1896.6,1110.8 L1898.1,1110.9 L1899.6,1111.0 L1901.1,1111.1 L1902.6,1111.2 L1904.1,1111.2 L1905.6,1111.3 L1907.1,1111.4 L1908.6,1111.5 L1910.1,1111.5 L1911.6,1111.6 L1913.1,1111.7 L1914.6,1111.8 L1916.1,1111.8 L1917.6,1111.9 L1919.1,1112.0 L1920.6,1112.1 L1922.1,1112.2 L1923.6,1112.2 L1925.1,1112.3 L1926.6,1112.4 L1928.1,1112.5 L1929.6,1112.6 L1931.1,1112.6 L1932.6,1112.7 L1934.1,1112.8 L1935.6,1113.0 L1937.1,1113.1 L1938.6,1113.2 L1940.1,1113.3 L1941.6,1113.4 L1943.1,1113.5 L1944.6,1113.6 L1946.1,1113.8 L1947.6,1113.9 L1949.1,1114.0 L1950.6,1114.1 L1952.1,1114.2 L1953.6,1114.3 L1955.1,1114.4 L1956.6,1114.6 L1958.1,1114.7 L1959.6,1114.8 L1961.1,1114.9 L1962.6,1115.0 L1964.1,1115.1 L1965.6,1115.3 L1967.1,1115.4 L1968.6,1115.5 L1970.0,1115.7 L1971.5,1115.8 L1973.0,1116.0 L1974.5,1116.1 L1976.0,1116.3 L1977.5,1116.4 L1979.0,1116.6 L1980.5,1116.7 L1982.0,1116.9 L1983.5,1117.0 L1985.0,1117.1 L1986.5,1117.3 L1988.0,1117.4 L1989.5,1117.6 L1991.0,1117.7 L1992.5,1117.9 L1994.0,1118.0 L1995.5,1118.2 L1997.0,1118.3 L1998.5,1118.5 L2000.0,1118.6 L2001.5,1118.8 L2003.0,1118.9 L2004.5,1119.0 L2006.0,1119.1 L2007.5,1119.2 L2009.0,1119.4 L2010.5,1119.5 L2012.0,1119.6 L2013.4,1119.7 L2014.9,1119.8 L2016.4,1119.9 L2017.9,1120.0 L2019.4,1120.1 L2020.9,1120.3 L2022.4,1120.4 L2023.9,1120.5 L2025.4,1120.6 L2026.9,1120.7 L2028.4,1120.8 L2029.9,1120.9 L2031.4,1121.1 L2032.9,1121.2 L2034.4,1121.3 L2035.9,1121.3 L2037.4,1121.4 L2038.9,1121.4 L2040.4,1121.4 L2041.9,1121.3 L2043.4,1121.3 L2044.9,1121.2 L2046.4,1121.2 L2047.9,1121.1 L2049.4,1121.1 L2050.9,1121.0 L2052.4,1120.9 L2054.0,1120.9 L2055.5,1120.8 L2057.0,1120.8 L2058.4,1120.8 L2059.9,1120.8 L2061.4,1121.0 L2062.9,1121.2 L2064.3,1121.5 L2065.8,1121.9 L2067.2,1122.3 L2068.6,1122.8 L2070.1,1123.2 L2071.5,1123.5 L2073.0,1123.8 L2074.4,1123.9 L2075.9,1124.0 L2077.4,1124.1 L2078.9,1124.1 L2080.4,1124.1 L2081.9,1124.1 L2083.4,1124.1 L2084.9,1124.1 L2086.4,1124.1 L2088.0,1124.1 L2089.5,1124.1 L2091.0,1124.1 L2092.5,1124.1 L2094.0,1124.1 L2095.5,1124.1 L2097.0,1124.1 L2098.5,1124.1 L2100.0,1124.1 L2101.5,1124.1 L2103.0,1124.1 L2104.5,1124.1 L2106.0,1124.1 L2107.5,1124.1 L2109.0,1124.1 L2110.5,1124.1 L2112.0,1124.1" stroke="#de2a78"/>
</g>
<rect x="1291.8" y="55.3" width="822.2" height="1110" fill="none" stroke="#000" stroke-width="5"/>
<g stroke="#000" stroke-width="5"><line x1="1291.0" y1="1165.3" x2="1291.0" y2="1144.3"/><line x1="1373.2" y1="1165.3" x2="1373.2" y2="1153.3"/><line x1="1455.4" y1="1165.3" x2="1455.4" y2="1144.3"/><line x1="1537.6" y1="1165.3" x2="1537.6" y2="1153.3"/><line x1="1619.8" y1="1165.3" x2="1619.8" y2="1144.3"/><line x1="1702.0" y1="1165.3" x2="1702.0" y2="1153.3"/><line x1="1784.2" y1="1165.3" x2="1784.2" y2="1144.3"/><line x1="1866.4" y1="1165.3" x2="1866.4" y2="1153.3"/><line x1="1948.6" y1="1165.3" x2="1948.6" y2="1144.3"/><line x1="2030.8" y1="1165.3" x2="2030.8" y2="1153.3"/><line x1="2113.0" y1="1165.3" x2="2113.0" y2="1144.3"/></g>
<line x1="1392.7" y1="144.5" x2="1392.7" y2="165.1" stroke="#999" stroke-width="2.2"/><polygon points="1388.9,163.1 1396.5,163.1 1392.7,174.6" fill="#111"/>
<line x1="1350.4" y1="237.0" x2="1350.4" y2="253.9" stroke="#999" stroke-width="2.2"/><polygon points="1346.6,251.9 1354.2,251.9 1350.4,263.4" fill="#111"/>
<line x1="1553.9" y1="293.6" x2="1553.9" y2="317.8" stroke="#999" stroke-width="2.2"/><polygon points="1550.1,315.8 1557.7,315.8 1553.9,327.3" fill="#111"/>
<line x1="1450.3" y1="359.0" x2="1450.3" y2="385.1" stroke="#999" stroke-width="2.2"/><polygon points="1446.5,383.1 1454.1,383.1 1450.3,394.6" fill="#111"/>
<line x1="1391.8" y1="395.0" x2="1391.8" y2="421.5" stroke="#999" stroke-width="2.2"/><polygon points="1388.0,419.5 1395.6,419.5 1391.8,431.0" fill="#111"/>
<line x1="1447.6" y1="515.4" x2="1447.6" y2="537.8" stroke="#999" stroke-width="2.2"/><polygon points="1443.8,535.8 1451.4,535.8 1447.6,547.3" fill="#111"/>
<line x1="1539.7" y1="611.0" x2="1539.7" y2="633.5" stroke="#999" stroke-width="2.2"/><polygon points="1535.9,631.5 1543.5,631.5 1539.7,643.0" fill="#111"/>
<line x1="1701.8" y1="686.0" x2="1701.8" y2="714.5" stroke="#999" stroke-width="2.2"/><polygon points="1698.0,712.5 1705.6,712.5 1701.8,724.0" fill="#111"/>
<line x1="1836.5" y1="740.1" x2="1836.5" y2="763.1" stroke="#999" stroke-width="2.2"/><polygon points="1832.7,761.1 1840.3,761.1 1836.5,772.6" fill="#111"/>
<line x1="1368.0" y1="604.0" x2="1368.0" y2="626.5" stroke="#999" stroke-width="2.2"/><polygon points="1364.2,624.5 1371.8,624.5 1368.0,636.0" fill="#111"/>
<line x1="1468.9" y1="739.0" x2="1468.9" y2="763.1" stroke="#999" stroke-width="2.2"/><polygon points="1465.1,761.1 1472.7,761.1 1468.9,772.6" fill="#111"/>
<line x1="1619.1" y1="845.9" x2="1619.1" y2="868.9" stroke="#999" stroke-width="2.2"/><polygon points="1615.3,866.9 1622.9,866.9 1619.1,878.4" fill="#111"/>
<text id="t0" x="58.00" y="121.50" font-size="59.98" fill="#000" font-weight="bold" textLength="15.58" lengthAdjust="spacingAndGlyphs">(</text>
<text id="t1" x="77.50" y="121.00" font-size="58.44" fill="#000" font-weight="bold" textLength="27.92" lengthAdjust="spacingAndGlyphs">a</text>
<text id="t2" x="113.50" y="121.50" font-size="59.98" fill="#000" font-weight="bold" textLength="15.58" lengthAdjust="spacingAndGlyphs">)</text>
<text id="t3" x="1185.50" y="124.00" font-size="56.81" fill="#000" font-weight="bold" textLength="18.18" lengthAdjust="spacingAndGlyphs">(</text>
<text id="t4" x="1205.00" y="124.00" font-size="55.96" fill="#000" font-weight="bold" textLength="36.58" lengthAdjust="spacingAndGlyphs">b</text>
<text id="t5" x="1244.00" y="124.00" font-size="56.81" fill="#000" font-weight="bold" textLength="17.38" lengthAdjust="spacingAndGlyphs">)</text>
<text id="t6" x="765.10" y="148.60" font-size="48.75" fill="#000" textLength="126.82" lengthAdjust="spacingAndGlyphs">53 °C</text>
<text id="t7" x="208.00" y="436.50" font-size="51.14" fill="#000" textLength="31.83" lengthAdjust="spacingAndGlyphs">A</text>
<text id="t8" x="686.10" y="547.90" font-size="49.09" fill="#000" textLength="126.22" lengthAdjust="spacingAndGlyphs">48 °C</text>
<text id="t9" x="206.60" y="735.60" font-size="51.73" fill="#ff0000" textLength="33.61" lengthAdjust="spacingAndGlyphs">B</text>
<text id="t10" x="456.70" y="782.30" font-size="48.93" fill="#000" textLength="114.17" lengthAdjust="spacingAndGlyphs">32°C</text>
<text id="t11" x="208.50" y="972.40" font-size="50.76" fill="#0000ff" textLength="36.12" lengthAdjust="spacingAndGlyphs">C</text>
<clipPath id="c12"><path clip-rule="evenodd" d="M0,0H2180V1355H0Z M162.08,1231.90H171.73V1238.50H162.08Z M176.22,1231.90H185.49V1238.50H176.22Z"/></clipPath><text id="t12" x="159.30" y="1237.00" font-size="50.93" fill="#000" clip-path="url(#c12)" textLength="55.22" lengthAdjust="spacingAndGlyphs">10</text>
<text id="t13" x="300.00" y="1237.00" font-size="50.93" fill="#000" textLength="61.56" lengthAdjust="spacingAndGlyphs">20</text>
<text id="t14" x="449.90" y="1237.00" font-size="50.93" fill="#000" textLength="60.57" lengthAdjust="spacingAndGlyphs">30</text>
<text id="t15" x="598.20" y="1237.00" font-size="50.93" fill="#000" textLength="57.19" lengthAdjust="spacingAndGlyphs">40</text>
<text id="t16" x="743.00" y="1237.00" font-size="50.93" fill="#000" textLength="59.61" lengthAdjust="spacingAndGlyphs">50</text>
<text id="t17" x="890.40" y="1237.00" font-size="50.93" fill="#000" textLength="61.27" lengthAdjust="spacingAndGlyphs">60</text>
<text id="t18" x="1038.00" y="1237.00" font-size="50.93" fill="#000" textLength="58.25" lengthAdjust="spacingAndGlyphs">70</text>
<text id="t19" x="420.80" y="1309.00" font-size="50.85" fill="#000" textLength="412.75" lengthAdjust="spacingAndGlyphs">Temperature (°C)</text>
<text id="t20" x="123.00" y="774.50" font-size="54.28" fill="#000" textLength="124.40" lengthAdjust="spacingAndGlyphs" transform="rotate(-90 123.00 774.50)">Endo</text>
<text id="t21" x="1240.20" y="827.30" font-size="53.80" fill="#111" stroke="#fff" stroke-width="1.00" textLength="330.27" lengthAdjust="spacingAndGlyphs" transform="rotate(-90 1240.20 827.30)">Intensity (a.u.)</text>
<text id="t22" x="1252.20" y="1226.20" font-size="51.94" fill="#111" stroke="#fff" stroke-width="0.80" textLength="73.30" lengthAdjust="spacingAndGlyphs">0.0</text>
<text id="t23" x="1417.00" y="1226.20" font-size="51.94" fill="#111" stroke="#fff" stroke-width="0.80" textLength="73.21" lengthAdjust="spacingAndGlyphs">0.2</text>
<text id="t24" x="1583.80" y="1226.20" font-size="51.94" fill="#111" stroke="#fff" stroke-width="0.80" textLength="69.35" lengthAdjust="spacingAndGlyphs">0.4</text>
<text id="t25" x="1748.30" y="1226.20" font-size="51.94" fill="#111" stroke="#fff" stroke-width="0.80" textLength="71.46" lengthAdjust="spacingAndGlyphs">0.6</text>
<text id="t26" x="1911.80" y="1226.20" font-size="51.94" fill="#111" stroke="#fff" stroke-width="0.80" textLength="71.44" lengthAdjust="spacingAndGlyphs">0.8</text>
<clipPath id="c27"><path clip-rule="evenodd" d="M0,0H2180V1355H0Z M2079.81,1221.02H2089.93V1227.70H2079.81Z M2093.65,1221.02H2103.37V1227.70H2093.65Z"/></clipPath><text id="t27" x="2077.00" y="1226.20" font-size="51.94" fill="#111" clip-path="url(#c27)" stroke="#fff" stroke-width="0.80" textLength="69.52" lengthAdjust="spacingAndGlyphs">1.0</text>
<text id="t28" x="1587.50" y="1314.60" font-size="48.27" fill="#111" stroke="#fff" stroke-width="0.90" textLength="132.52" lengthAdjust="spacingAndGlyphs">q (nm</text>
<clipPath id="c29"><path clip-rule="evenodd" d="M0,0H2180V1355H0Z M1733.74,1282.84H1741.74V1289.00H1733.74Z M1744.52,1282.84H1752.23V1289.00H1744.52Z"/></clipPath><text id="t29" x="1719.10" y="1287.50" font-size="45.04" fill="#111" clip-path="url(#c29)" stroke="#fff" stroke-width="0.70" textLength="34.00" lengthAdjust="spacingAndGlyphs">-1</text>
<text id="t30" x="1763.00" y="1314.60" font-size="48.27" fill="#111" stroke="#fff" stroke-width="0.90" textLength="12.39" lengthAdjust="spacingAndGlyphs">)</text>
<text id="t31" x="2054.60" y="412.70" font-size="50.59" fill="#000" stroke="#fff" stroke-width="1.50" textLength="32.66" lengthAdjust="spacingAndGlyphs">E</text>
<text id="t32" x="2051.10" y="571.30" font-size="51.74" fill="#d2222c" stroke="#fff" stroke-width="1.50" textLength="36.47" lengthAdjust="spacingAndGlyphs">D</text>
<text id="t33" x="2054.70" y="803.70" font-size="50.70" fill="#2320b0" stroke="#fff" stroke-width="1.50" textLength="35.53" lengthAdjust="spacingAndGlyphs">C</text>
<text id="t34" x="2048.90" y="960.90" font-size="51.16" fill="#74206a" stroke="#fff" stroke-width="1.50" textLength="34.91" lengthAdjust="spacingAndGlyphs">B</text>
<text id="t35" x="2050.50" y="1111.20" font-size="51.74" fill="#de2a78" stroke="#fff" stroke-width="1.50" textLength="32.14" lengthAdjust="spacingAndGlyphs">A</text>
<clipPath id="c36"><path clip-rule="evenodd" d="M0,0H2180V1355H0Z M1382.82,123.60H1390.34V129.20H1382.82Z M1393.76,123.60H1400.99V129.20H1393.76Z"/></clipPath><text id="t36" x="1380.96" y="127.70" font-size="37.50" fill="#444" clip-path="url(#c36)">1</text>
<clipPath id="c37"><path clip-rule="evenodd" d="M0,0H2180V1355H0Z M1340.22,215.00H1347.74V220.60H1340.22Z M1351.16,215.00H1358.39V220.60H1351.16Z"/></clipPath><text id="t37" x="1338.36" y="219.10" font-size="37.50" fill="#444" clip-path="url(#c37)">1</text>
<clipPath id="c38"><path clip-rule="evenodd" d="M0,0H2180V1355H0Z M1382.12,377.30H1389.64V382.90H1382.12Z M1393.06,377.30H1400.29V382.90H1393.06Z"/></clipPath><text id="t38" x="1380.26" y="381.40" font-size="37.50" fill="#444" clip-path="url(#c38)">1</text>
<clipPath id="c39"><path clip-rule="evenodd" d="M0,0H2180V1355H0Z M1360.62,597.20H1368.14V602.80H1360.62Z M1371.56,597.20H1378.79V602.80H1371.56Z"/></clipPath><text id="t39" x="1358.76" y="601.30" font-size="37.50" fill="#444" clip-path="url(#c39)">1</text>
<text id="t40" x="1545.30" y="257.00" font-size="48.13" fill="#222" stroke="#fff" stroke-width="0.80" textLength="24.11" lengthAdjust="spacingAndGlyphs">6</text>
<text id="t41" x="1523.20" y="257.00" font-size="52.40" fill="#9a9a9a" textLength="19.75" lengthAdjust="spacingAndGlyphs">√</text>
<text id="t42" x="1448.00" y="330.00" font-size="48.53" fill="#222" stroke="#fff" stroke-width="0.80" textLength="26.89" lengthAdjust="spacingAndGlyphs">6</text>
<text id="t43" x="1429.00" y="329.00" font-size="52.81" fill="#9a9a9a" textLength="16.27" lengthAdjust="spacingAndGlyphs">√</text>
<text id="t44" x="1444.20" y="484.00" font-size="46.63" fill="#222" stroke="#fff" stroke-width="0.80" textLength="25.04" lengthAdjust="spacingAndGlyphs">3</text>
<text id="t45" x="1424.40" y="484.00" font-size="50.35" fill="#9a9a9a" textLength="16.85" lengthAdjust="spacingAndGlyphs">√</text>
<text id="t46" x="1540.80" y="596.00" font-size="50.76" fill="#222" stroke="#fff" stroke-width="0.80" textLength="26.03" lengthAdjust="spacingAndGlyphs">6</text>
<text id="t47" x="1517.60" y="596.00" font-size="56.40" fill="#9a9a9a" textLength="21.27" lengthAdjust="spacingAndGlyphs">√</text>
<clipPath id="c48"><path clip-rule="evenodd" d="M0,0H2180V1355H0Z M1696.36,666.55H1705.91V673.00H1696.36Z M1709.34,666.55H1718.52V673.00H1709.34Z"/></clipPath><text id="t48" x="1693.80" y="671.50" font-size="48.85" fill="#222" clip-path="url(#c48)" stroke="#fff" stroke-width="0.80" textLength="52.01" lengthAdjust="spacingAndGlyphs">16</text>
<text id="t49" x="1670.10" y="671.50" font-size="54.17" fill="#9a9a9a" textLength="22.31" lengthAdjust="spacingAndGlyphs">√</text>
<text id="t50" x="1828.00" y="721.50" font-size="50.08" fill="#222" stroke="#fff" stroke-width="0.80" textLength="50.53" lengthAdjust="spacingAndGlyphs">25</text>
<text id="t51" x="1806.70" y="721.50" font-size="54.31" fill="#9a9a9a" textLength="18.45" lengthAdjust="spacingAndGlyphs">√</text>
<text id="t52" x="1467.10" y="717.70" font-size="48.53" fill="#222" stroke="#fff" stroke-width="0.80" textLength="25.40" lengthAdjust="spacingAndGlyphs">6</text>
<text id="t53" x="1445.20" y="716.70" font-size="52.81" fill="#9a9a9a" textLength="18.70" lengthAdjust="spacingAndGlyphs">√</text>
<clipPath id="c54"><path clip-rule="evenodd" d="M0,0H2180V1355H0Z M1611.89,832.55H1621.06V839.00H1611.89Z M1624.30,832.55H1633.11V839.00H1624.30Z"/></clipPath><text id="t54" x="1609.50" y="837.50" font-size="48.85" fill="#222" clip-path="url(#c54)" stroke="#fff" stroke-width="0.80" textLength="49.57" lengthAdjust="spacingAndGlyphs">16</text>
<text id="t55" x="1585.50" y="837.50" font-size="54.17" fill="#9a9a9a" textLength="21.52" lengthAdjust="spacingAndGlyphs">√</text>
</svg></body></html>
